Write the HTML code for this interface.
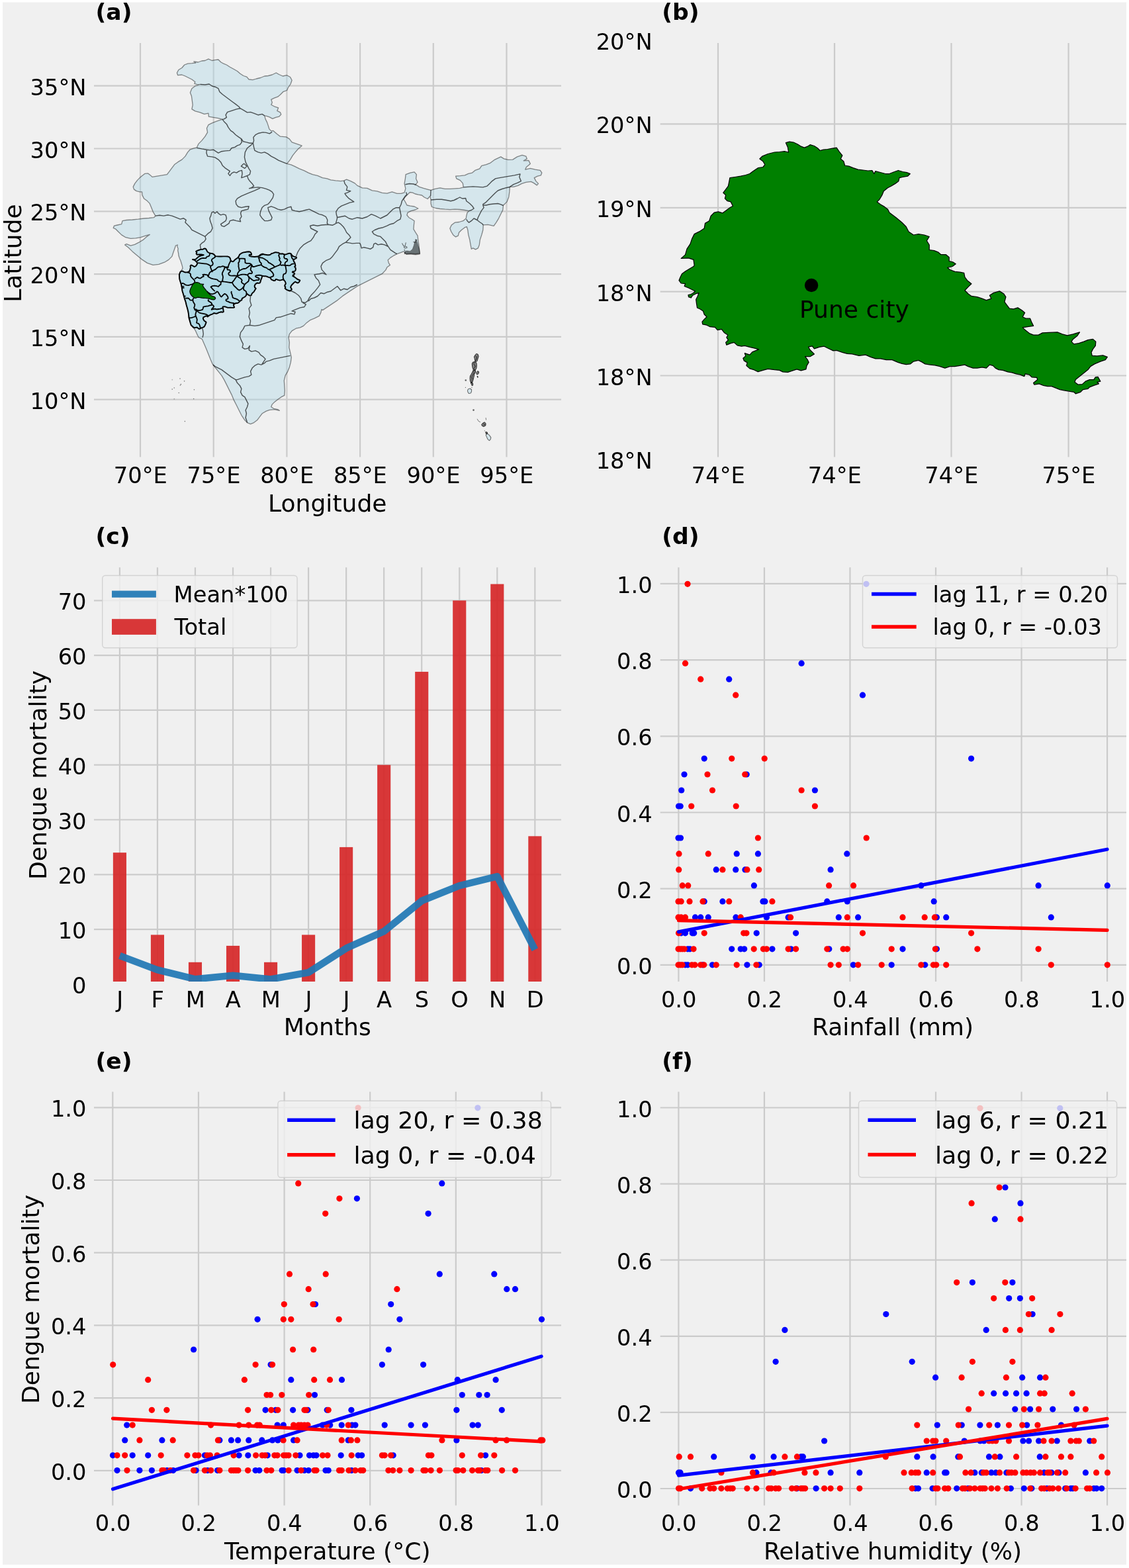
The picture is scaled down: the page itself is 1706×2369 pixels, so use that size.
<!DOCTYPE html>
<html lang="en"><head><meta charset="utf-8"><title>Dengue mortality and climate - Pune</title>
<style>
html,body{margin:0;padding:0;background:#fff;}
body{width:1706px;height:2369px;overflow:hidden;}
svg{display:block;font-family:"DejaVu Sans","Liberation Sans",sans-serif;fill:#000;}
</style></head><body>
<svg width="1706" height="2369" viewBox="0 0 1706 2369">
<rect x="0" y="0" width="1706" height="2369" fill="#ffffff"/>
<rect x="4" y="3.5" width="1698" height="2360.5" fill="#f0f0f0"/>
<defs>
<clipPath id="cpa"><rect x="142" y="65" width="706" height="625.5"/></clipPath>
<clipPath id="cpb"><rect x="997.7" y="65" width="704.3" height="625.5"/></clipPath>
<clipPath id="cpc"><rect x="142" y="857.3" width="706" height="625.7"/></clipPath>
<clipPath id="cpd"><rect x="997.7" y="857.3" width="704.3" height="625.7"/></clipPath>
<clipPath id="cpe"><rect x="142" y="1649.4" width="706" height="625.2"/></clipPath>
<clipPath id="cpf"><rect x="997.7" y="1649.4" width="704.3" height="625.2"/></clipPath>
</defs>
<path d="M212 65V690.5M322.7 65V690.5M433.4 65V690.5M544.1 65V690.5M654.8 65V690.5M765.5 65V690.5M142 129.7H848M142 224.5H848M142 319.3H848M142 414.1H848M142 508.9H848M142 603.7H848" fill="none" stroke="#cbcbcb" stroke-width="2.2"/>
<text x="212.3" y="729.6" font-size="33.7" text-anchor="middle">70°E</text>
<text x="323" y="729.6" font-size="33.7" text-anchor="middle">75°E</text>
<text x="433.7" y="729.6" font-size="33.7" text-anchor="middle">80°E</text>
<text x="544.4" y="729.6" font-size="33.7" text-anchor="middle">85°E</text>
<text x="655.1" y="729.6" font-size="33.7" text-anchor="middle">90°E</text>
<text x="765.8" y="729.6" font-size="33.7" text-anchor="middle">95°E</text>
<text x="130.5" y="143.7" font-size="33.7" text-anchor="end">35°N</text>
<text x="130.5" y="238.5" font-size="33.7" text-anchor="end">30°N</text>
<text x="130.5" y="333.3" font-size="33.7" text-anchor="end">25°N</text>
<text x="130.5" y="428.1" font-size="33.7" text-anchor="end">20°N</text>
<text x="130.5" y="522.9" font-size="33.7" text-anchor="end">15°N</text>
<text x="130.5" y="617.7" font-size="33.7" text-anchor="end">10°N</text>
<text x="494.8" y="772.8" font-size="36.1" text-anchor="middle">Longitude</text>
<text x="31.7" y="382.5" font-size="36.1" text-anchor="middle" transform="rotate(-90 31.7 382.5)">Latitude</text>
<text x="144.5" y="30" font-size="34.6" text-anchor="start" font-weight="bold">(a)</text>
<g clip-path="url(#cpa)" stroke-linejoin="round">
<path d="M267.4 110L269.9 105.5L274.9 102.5L278.7 98L283.7 96.2L289.9 95.7L295.7 95L292.9 93L299.4 94L304.9 92L309.9 91.5L314.9 89.2L320.4 91.5L324.9 90.7L329.9 90L333.6 93.7L337.9 96.2L342.4 98L347.4 101.2L352.9 104.2L358.6 107.5L362.9 111.2L367.9 114.5L372.9 116.2L376.1 120L381.9 120.7L387.4 119L393.6 117.5L399.8 115L405.3 114.5L411.1 113L417.3 110L421.6 112.5L427.3 115L433.6 113.7L438.6 116.5L441.1 121.2L439.1 127L435.3 132.5L433.6 136.5L427.8 138.7L423.6 143L419.8 146.2L414.3 148.2L409.8 150.4L411.3 154.9L409.8 158.2L415.3 161.2L420.6 162.9L418.8 167.4L423.6 169.9L424.8 172.9L421.6 176.2L416.6 177.4L411.8 179.4L407.3 176.9L402.8 175.4L399.8 174.9L401.1 179.9L403.6 184.9L405.3 189.9L406.8 194.9L409.8 197.9L412.8 197.4L418.6 202.4L423.6 206.2L432.3 206.9L437.3 209.9L441.1 214.9L449.8 217.9L456.1 220.2L451.1 224.4L447.3 228.7L442.3 234.9L438.6 241.1L433.6 247.4L439.8 248.9L444.8 251.1L452.3 254.9L459.8 257.9L466.1 261.1L472.3 263.6L479.8 265.4L487.3 268.6L494.3 269.9L499.8 271.9L507.3 272.9L514.8 273.6L519.8 272.9L523.7 271.1L529.9 273.6L536.2 276.9L539.9 280.4L547.4 283.9L554.9 284.4L562.4 287.9L569.9 288.9L577.4 291.4L584.9 292.1L592.4 289.9L599.9 292.4L606.1 292.4L611.1 290.9L612.9 284.9L611.1 277.4L612.4 269.9L613.1 263.6L619.9 261.1L626.1 259.9L629.4 263.6L628.6 269.9L631.1 275.4L627.9 278.6L633.6 282.4L639.9 284.4L646.1 286.1L651.1 287.4L657.4 285.4L664.9 283.9L672.4 285.4L679.9 285.4L687.3 284.9L694.8 284.4L700.3 282.9L699.3 276.9L695.3 272.4L689.8 269.9L688.6 266.1L695.3 265.6L702.3 264.9L707.8 262.4L713.6 261.1L717.8 257.4L724.8 254.9L727.8 250.4L734.8 248.6L741.1 246.1L747.8 241.1L756.8 236.9L761.5 239.9L767.8 241.4L774.8 241.1L781.5 236.9L789 234.4L794.8 236.1L796.3 239.9L791.3 242.9L798.8 242.4L801.3 247.4L795.3 252.4L793.8 256.1L801.3 254.4L808.8 256.1L816.3 257.4L818.8 261.1L817.3 264.9L812.3 266.1L807.3 268.6L809.8 273.6L813.5 277.4L811.3 279.9L806.3 276.4L802.3 274.4L794.8 275.4L788.5 277.4L782.8 280.4L776 282.4L770.3 282.4L769.8 289.9L768.8 297.4L766 304.9L760.5 310.3L759.8 317.3L757.3 322.3L753.6 329.8L749.8 336.1L746.1 341.3L737.3 339.3L730.3 339.8L729.8 347.5L727.8 354.9L725.3 362.4L724.3 369.9L722.3 374.9L718.6 376.9L714.8 374.9L712.3 376.2L711.1 369.9L709.8 362.4L707.8 354.9L706.8 347.5L705.3 342.5L702.3 343.7L697.3 347.5L693.6 351.2L692.3 356.2L688.6 357.9L684.8 354.9L681.8 350L679.9 345L682.3 340L687.3 336.2L693.6 335.5L699.8 333.7L704.3 330L704.8 326.2L706.1 321.2L708.6 318.7L702.3 317.5L694.8 316.5L687.3 316.2L679.9 316.7L672.4 316.2L664.9 315.5L658.6 314.5L652.4 312.5L651.1 307.5L651.1 302L649.9 296.2L646.1 300.5L641.1 298L637.4 295L632.4 294.2L627.4 293L623.6 291.2L619.4 290.5L616.1 293.7L612.4 297.5L609.9 301.2L612.4 305L614.9 310L619.9 311.2L626.1 312L631.9 315L627.4 317L621.1 318.7L616.1 321.2L614.9 325L617.9 328.7L622.4 331.2L626.1 333.7L625.4 340L624.9 346.2L627.9 351.2L631.1 356.2L631.9 363.7L632.9 369.9L633.6 377.4L634.4 382.9L627.4 383.7L619.9 382.9L613.6 383.7L609.9 379.9L604.9 381.9L599.9 383.7L594.9 386.2L589.9 389.4L586.2 392.9L587.4 397.4L589.4 400.4L584.9 403.7L582.9 407.9L577.4 413.7L569.9 417.4L562.4 421.2L554.9 424.9L547.4 428.7L539.9 432.4L532.4 437.4L524.9 442.4L517.5 447.4L510 453.6L502.5 458.6L495 463.6L487.5 468.6L486 467.4L484.8 472.4L482.3 477.4L474.8 481.2L468.6 483.7L463.6 487.4L458.6 492.4L453.6 494.9L447.3 496.2L441.1 499.9L437.3 504.9L436.1 509.9L437.3 517.4L436.8 524.9L438.6 532.4L440.3 539.9L439.3 547.4L437.3 554.9L434.8 561.1L431.1 567.4L429.3 574.9L429.8 582.4L430.3 589.9L429.8 597.4L424.8 599.9L419.8 603.6L414.8 607.4L411.1 611.1L409.8 614.8L413.6 617.3L419.8 618.6L422.3 620.3L414.8 618.6L407.3 619.3L402.3 621.1L396.1 624.8L392.3 629.8L388.6 634.8L383.6 638.6L378.6 640.6L373.6 638.6L369.9 634.8L364.9 627.3L361.1 619.8L357.4 612.3L353.6 604.9L349.9 596.1L346.1 588.6L342.4 581.1L338.6 573.6L334.9 567.4L329.9 561.1L324.9 554.9L321.1 549.9L317.9 542.4L314.9 534.9L311.9 527.4L308.7 519.9L305.4 512.4L300.44 510L299.15 507.73L297.86 505.16L296.58 502.16L294.86 498.73L293.15 496.15L290.58 494.01L288.86 491.44L288 488.87L287.15 485.87L286.29 482.87L285.43 479.87L285.22 476.86L284.79 473.44L284.15 470.01L283.29 466.58L282.43 463.58L281.58 460.58L280.93 457.58L280.07 454.57L279 451.57L278.15 448.57L277.29 445.57L276.43 442.57L275.57 440L274.72 434.3L273.86 430.01L272.57 425.73L271.29 421.44L270.86 415.01L272.57 410.72L273.86 408.58L276 405.58L275.57 402.58L274.29 398.29L273 394L271.29 390.15L270 386.29L269.57 382.43L268.72 378.57L269.14 375.57L267.86 372.57L268.29 370L265.4 371.2L263.7 376.2L261.9 381.2L259.9 387.4L254.9 392.4L248.7 396.2L239.9 399.4L231.2 400.4L222.5 397.4L215 392.4L207.5 386.2L200 379.9L193.7 373.7L188.7 369.9L191.2 368.7L197.5 371.2L203.7 369.4L210 366.2L216.2 362.4L221.2 357.9L226.2 354.4L220 356.2L212.5 358.7L205 359.9L197.5 360.4L190 358.7L183.7 354.9L178.7 350L175 346.2L171.2 344.5L172.5 341.2L177.5 340L183.7 338.7L185 333.7L191.2 332.5L200 332L208.7 331.2L217.5 330L225 329.5L232.4 328.7L234.9 326.2L231.2 319.8L228.7 313.6L226.2 307.4L222.5 303.6L217.5 299.9L215 294.9L214.5 289.9L211.2 289.9L206.2 288.6L202.5 286.1L201.2 282.4L203.7 277.4L207.5 272.4L211.2 268.6L215.5 264.9L218.7 262.4L223.7 261.9L227.5 264.9L230 267.4L237.4 266.1L244.9 264.9L252.4 263.6L256.2 258.6L259.9 253.6L263.7 248.6L268.7 244.9L274.9 241.1L279.9 236.1L283.7 229.9L286.9 226.2L292.4 224.2L297.4 222.9L299.9 217.4L304.9 212.4L309.9 206.2L313.6 199.9L312.4 193.7L314.9 188.7L319.9 186.2L326.1 183.7L331.1 181.9L336.1 180.4L329.9 178.7L322.4 177.4L315.4 176.2L314.9 171.2L308.7 172.4L302.4 169.9L294.9 167.9L289.9 164.9L291.2 158.7L290.4 152.4L289.4 145L287.4 140L289.9 133.7L294.9 130L302.9 127.5L298.7 128L293.7 126.2L294.9 123.7L289.9 120L284.9 117.5L279.9 115L274.9 113L268.7 113.7Z" fill="#add8e6" fill-opacity="0.4" stroke="#000" stroke-opacity="0.45" stroke-width="1.3"/>
<path d="M302.9 127.5L309.9 128L316.1 127L320.4 130L324.9 131.2L329.9 133.7L331.9 138.7L336.1 142.5L341.1 146.2L346.1 150L351.1 153.7L356.1 157.4L361.1 161.2L362.9 163.7L367.4 166.2L373.6 169.9L378.6 169.4L383.6 171.2L389.9 173.7L396.1 172.4L399.8 174.9M362.9 163.7L357.4 164.9L349.9 167.4L343.6 169.4L341.1 173.7L342.4 177.4L338.6 179.9L336.1 180.4L338.6 183.7L342.4 187.4L344.9 192.4L348.6 197.4L352.4 199.9L356.1 203.7L361.1 207.4L364.9 209.9L367.4 213.7L372.4 214.9L377.4 216.2L382.4 216.2M382.4 216.2L383.6 212.4L382.9 207.4L386.1 203.7L391.1 201.2L397.3 199.9L402.3 200.4L407.3 201.9L411.1 199.4M364.4 209.9L365.4 214.9L362.4 218.7L358.6 219.9L354.9 222.4L349.9 223.7L347.4 227.4L341.1 227.9L334.9 228.7L329.9 231.1L326.1 228.7L322.4 226.2L317.4 226.9L312.4 226.2L304.9 224.9L297.4 223.4M312.4 226.2L311.9 231.1L313.6 236.1L319.9 236.9L324.9 237.9L329.9 241.1L333.6 244.9L336.1 249.9L339.9 253.6L343.6 256.1L347.4 258.6L344.9 262.4L347.4 265.4L349.9 261.9L353.6 259.9L357.4 261.1L361.1 258.6L365.4 257.4L366.1 262.4L364.9 268.6L368.6 267.4L373.6 265.4M382.4 216.2L377.9 220.4L373.6 223.7L370.4 229.9L369.4 237.4L371.1 244.9L373.6 249.9L376.1 254.9L378.6 258.6L377.4 263.6L373.6 265.4M368.6 246.9L372.9 251.1L369.9 254.4L364.4 251.1L368.6 246.9M433.6 247.4L427.3 244.9L421.1 242.4L414.8 238.6L409.8 236.1L404.8 232.4L399.8 229.9L394.8 231.1L389.9 229.9L384.9 227.4L383.6 222.4L382.4 216.2M373.6 265.4L374.9 269.9L377.4 273.6L381.1 277.4L383.6 281.1L379.9 283.6L376.1 284.9M376.1 284.9L382.4 283.6L389.9 282.9L396.1 283.6L402.3 285.4L407.3 287.4L411.1 289.9L413.6 293.6L412.3 298.6L409.8 302.4L407.3 306.1L404.8 308.6L399.8 310.3L396.1 313.6L393.6 319.8L392.8 324.8L396.1 329.8L399.8 333.6L404.8 333.6L409.8 332.3L411.1 328.6L408.6 323.6L406.1 318.6L404.8 313.6L409.8 311.8L414.8 313.6L419.8 316.1L424.8 317.3L429.8 316.1L434.8 313.6L439.8 312.3L441.1 317.3L446.1 318.6L452.3 319.8L457.3 318.6L462.3 317.3L467.3 316.1L472.3 318.6L477.3 321.1L482.3 323.6L487.3 324.8L492.3 327.3L494.8 332.3L494.3 337.3L496 339.3L502.3 340.3L507.3 337.8M393.1 284.1L384.9 287.9L374.9 291.9L364.9 296.1L358.6 299.9L356.1 303.6L356.9 308.6L359.9 312.3L364.9 313.6L371.1 312.3L376.1 311.8L374.9 316.1L369.9 317.3L364.9 318.6L363.6 322.3L364.9 327.3L362.4 331.1L363.6 334.8L357.4 333.6L352.4 332.3L347.4 333.6L346.1 337.3L342.4 339.8L338.6 342.3L334.9 341.1L333.6 338.6L337.4 336.1L341.1 333.6L342.4 329.8L341.1 324.8L337.4 323.6L333.6 324.8L329.9 322.3L327.9 319.8L324.9 322.3L322.4 319.8L319.9 321.1L318.6 326.1L316.9 329.8L317.9 334.8L319.9 339.8L321.1 344.8L318.6 349.8L314.9 352.3L312.4 354.8L309.9 357.3M234.9 326.1L241.2 325.3L247.4 326.1L253.7 324.8L259.9 326.1L266.2 328.6L272.4 331.1L277.4 329.8L281.2 332.3L279.9 336.1L283.7 339.8L287.4 343.6L289.9 347.3L294.9 349.8L299.9 352.3L304.9 354.8L309.9 357.3M519.8 272.9L521 277.4L524.8 282.4L523.5 287.4L529.8 288.6L524.8 291.1L521 292.4L523.5 296.1L527.3 299.9L534.8 304.9L528.5 306.1L522.3 308.6L516 311.1L511 314.8L507.8 319.8L508.5 324.8L509.8 328.6L508.5 333.6L507.3 337.8M309.9 357.4L311.1 361.2L308.7 364.9L304.9 367.4L302.4 369.9L302.9 373.7L303.9 376.4M447.3 387.4L449.8 381.2L453.6 374.9L458.6 369.9L464.8 366.2L469.8 363.7L473.5 358.7L476 353.7L479.8 350L474.8 347.5L469.8 345L468.6 341.2L473.5 340L479.8 341.2L486 340L492.3 339.5L496 339.2M508.7 328.7L515 327.5L521.2 326.2L527.4 330L532.4 331.2L539.9 328.7L547.4 330L554.9 327.5L561.2 323.7L567.4 326.2L574.9 330L579.9 327.5L584.9 325L589.9 320L593.7 316.2L598.7 313.7L603.6 313.7M603.6 313.7L606.1 308.7L607.4 303.7L609.9 300L612.4 296.2L614.9 293.7L613.6 290.5M603.6 313.7L604.9 320L606.1 326.2L604.9 331.2L599.9 333.7L594.9 337.5L589.9 338.7L584.9 341.2L578.7 343.7L572.4 345L566.2 347.5L562.4 350L564.9 353.7L569.9 356.2L574.9 357.4L578.7 361.2L582.4 364.9L584.9 369.9L587.4 373.7L589.9 377.4L593.7 379.9L597.4 382.4L599.9 383.7M586.2 372.4L581.2 369.9L576.2 368.7L571.2 369.9L567.4 367.4L564.9 368.7L563.7 373.7L559.9 376.2L554.9 374.9L549.9 373.7L546.2 374.9L544.9 369.9L543.7 367.4L538.7 367.4L532.4 367.9L527.4 366.9L522.4 366.2M522.4 366.2L526.2 362.4L529.9 358.7L527.4 354.9L523.7 351.2L521.2 346.2L518.7 342.5L515 338.7L511.2 336.2L507.5 337.5M522.4 366.2L517.5 368.7L512.5 372.4L510 377.4L506.2 382.4L502.5 387.4L498.7 391.2L492.5 393.7L487.5 397.4L485 402.4L486.2 407.4L493 414.9L487.5 412.4L482.5 413.7L475 414.9L477.5 419.9L481.2 423.7L483.7 429.9L480 434.9L475 441.1L471.2 444.9L467.5 449.9L465 454.9M612.4 278.7L618.6 277.5L624.9 278L628.6 279.5M651.1 287L650.6 296.2M651.1 302L659.9 301.2L667.4 301.2L674.9 302.5L681.1 303.7L686.1 302.5L691.1 300L694.8 298L698.6 300L703.6 299.5L704.8 303.7L709.8 307.5L713.6 311.2L716.1 315L712.3 317.5L708.6 318.7M700.3 282.9L707.3 282.4L714.8 281.9L722.3 282.4L729.8 282.9L736.1 281.1L739.8 277.4L743.6 273.6L748.6 269.9L754.8 268.6L762.3 267.4L769.8 266.1L777.3 264.9L786 262.9L784.8 267.4L787.3 273.6L782.3 276.1L776 278.6L770.3 282.4M770.3 282.5L764.8 283.7L758.6 285.5L752.3 288L748.6 291.2L744.8 295L741.1 298.7L737.3 302.5L733.6 306.2L729.8 308.7L729.8 310L734.8 310L739.8 308.7L746.1 308L752.3 307.5L756.1 308.7L760.5 310.5M729.8 310L731.1 313.7L727.3 318.7L724.8 323.7L722.3 328.7L721.1 332.5L724.8 335.5L728.6 338L730.3 340M721.1 332.5L716.1 330L712.3 333.7L708.6 336.2L706.1 333.7L704.8 331.2M437.3 439.5L441.1 440L446.1 442.5L451.1 446.2L454.8 451.2L456.1 456.2L461.1 457.4L464.8 454.9L467.3 450L471 445M539.8 430L534.8 432.5L529.8 433.7L524.8 437.5L519.8 436.2L514.8 438.7L509.8 432.5L504.8 436.2L499.8 440L494.8 441.2L489.8 443.7L484.8 442.5L479.8 447.5L474.8 450L469.8 451.2L466.1 454.9M378.6 447.5L377.9 454.9L379.9 461.2L376.1 466.2L377.4 472.4L376.1 478.7L378.6 484.9L377.4 491.2L384.9 492.4L392.3 491.2L399.8 488.7L407.3 486.2L414.8 483.7L417.3 479.9L424.8 478.7L432.3 476.2L439.8 473.7L444.8 474.9L446.1 471.2L441.1 469.9L447.3 467.4L453.6 464.9L459.8 463.7L462.3 459.9L457.3 457.4M377.4 491.2L369.9 492.4L367.4 497.4L363.6 502.4L362.4 508.7L364.9 514.9L367.4 519.9L366.1 524.9L369.9 527.4L374.9 526.2L377.4 522.4L376.1 528.7L379.9 531.1L386.1 529.9L391.1 532.4L393.6 536.1L397.3 538.6L401.1 542.4L398.6 546.1L396.1 549.9L399.8 548.6L402.3 546.1L407.3 544.9L413.6 542.4L419.8 541.1L426.1 539.9L432.3 538.6L438.6 537.4M399.8 548.6L394.8 551.1L389.9 549.9L384.9 552.4L381.1 556.1L378.6 561.1L379.9 566.1L376.1 568.6L369.9 569.9L363.6 571.9L358.6 573.6L356.1 573.6L349.9 569.9L344.9 566.1L339.9 562.4L334.9 558.6L329.9 556.1L324.9 553.6L321.9 551.1M356.1 573.6L358.6 578.6L362.4 582.4L364.9 587.4L363.6 592.4L366.1 597.4L369.9 599.9L372.4 604.9L374.9 609.9L373.6 614.8L371.1 619.8L372.4 624.8L371.1 631.1L372.9 636.1L373.6 638.6M305.15 495.73L306.44 498.3L306.87 501.3L307.29 504.3L306.87 506.87L306.01 510" fill="none" stroke="#000" stroke-opacity="0.66" stroke-width="1.4"/>
<path d="M272.57 410.72L275.15 409.44L277.72 410.72L280.29 411.58L283.29 411.37L286.29 409.87L287.15 407.29L288 404.29L287.58 401.72L288.86 400.43L291.43 401.72L294.01 403.01L296.15 401.72L297.86 399.15L298.29 397.43L296.58 395.29L294.86 393.58L293.58 392.72L291.01 392.08L294.01 392.29L296.15 391.43L297.86 389.72L300.44 387.58L303.44 386.29L306.87 385.65L307.72 385.22L304.29 384.57L300.86 384.36L297.86 384.79L296.58 383.29L297.44 381.57L296.15 379.86L298.29 378.57L300.86 377.72L303.44 376.86L306.01 376.86L307.72 376L309.44 375.36L311.15 376.22L312.01 377.72L312.87 379.43L313.72 380.72L315.44 381.79L317.15 382.43L319.3 382.86L321.44 383.29L323.58 384.57L324.87 386.29L325.73 387.15L328.3 387.36L330.87 387.58L334 387.58L337.43 387.36L340.86 387.36L344.29 387.58L346.43 388.43L347.72 390.15L348.36 392.29L349 394L350.29 394.86L352 395.29L353.29 394.43L354.58 392.72L356.29 391.43L358.43 390.15L359.72 388.86L361.01 387.15L361.86 385L363.15 383.72L365.29 382.43L367.86 381.36L370.44 380.93L373.01 380.5L375.58 380.29L377.72 380.5L379.01 381.57L379.87 383.29L380.08 384.79L378.58 385L376.87 384.79L376.44 385.86L377.29 386.93L379.44 387.58L382.01 387.79L384.58 388L387.15 387.79L389.73 387.58L391.44 386.72L392.73 385.43L394.44 384.36L396.16 383.72L397.87 383.72L399.16 384.57L400.87 384.79L402.59 385L404 385.22L406.57 385.22L408.72 384.57L410 383.29L412.14 382.65L414.29 381.79L416.43 381.15L418.57 381.57L420.72 381.79L422.43 382.86L424.15 383.72L426.29 383.29L428 383.72L430.15 384.57L432.29 384.36L434.86 383.29L437.44 382.65L439.58 383.29L440.86 385L442.15 386.72L444.29 387.58L446.87 388.43L448.15 388.86L447.72 390.15L446.01 391L444.29 391.86L443.44 393.15L443.87 394.86L445.15 396.58L446.01 399.15L446.44 401.72L445.15 403.01L446.44 404.29L446.87 406.44L446.44 408.58L445.15 409.87L442.58 410.29L441.72 411.15L443.44 412.01L445.15 412.87L444.72 414.58L443.01 415.44L442.58 417.15L444.29 418.01L446.01 419.3L447.72 420.58L449.44 421.87L451.58 422.73L453.3 423.58L452.44 425.3L451.15 427.01L449.44 427.44L447.72 426.58L446.01 425.73L444.29 427.01L442.58 428.73L440.86 430.44L439.58 432.58L439.15 434.3L440.44 436.01L440.86 437.3L439.58 438.59L437.86 439.44L436.15 439.01L434.01 438.16L431.86 436.87L430.58 435.58L431.43 433.87L430.15 432.16L430.58 430.44L431.86 428.73L431.43 426.58L430.58 424.87L428.86 423.15L427.15 422.3L425 423.15L422.86 423.58L420.72 423.15L418.57 422.3L416.86 421.87L415.57 424.01L413.86 424.01L411.72 423.15L410 422.3L408.72 420.15L407.43 419.3L405.71 418.87L404 418.01L400.87 417.15L398.3 417.15L396.16 416.72L395.73 419.3L394.87 421.44L394.01 423.58L393.58 425.73L392.73 427.44L391.01 427.87L388.87 427.44L387.15 428.3L385.44 430.01L384.58 432.16L385.01 434.3L386.73 436.01L385.44 437.73L384.15 440L383.3 441.29L381.58 442.57L380.3 444.29L379.87 446L378.58 446.64L376.87 446.43L374.72 445.14L373.44 443.86L372.58 444.29L372.15 446L370.86 447.72L369.15 449L367.44 449.86L365.72 451.15L365.29 453.29L363.58 454.15L361.86 455.86L360.58 457.15L358.86 458L356.72 458L354.58 458.86L352.86 460.15L353.29 462.29L354.15 464.43L352.86 464.86L350.29 464.86L347.72 464.65L345.15 464.86L343 464.43L340.86 463.58L338.72 463.15L336.57 463.58L337 465.72L337.43 468.29L337.86 470.86L336.57 471.72L334 471.29L332.59 471.72L330.87 472.15L329.16 473.01L327.01 473.86L325.3 473.44L323.15 473.01L321.44 474.29L319.3 475.15L317.15 476.01L315.44 477.29L313.72 478.58L312.44 477.29L310.72 477.72L309.01 478.58L307.29 479.44L306.87 481.15L307.72 483.29L309.01 485.01L310.72 485.87L311.58 487.15L310.72 489.3L309.87 491.44L308.58 493.58L306.44 494.87L304.29 495.3L302.58 496.58L300.86 497.01L299.15 495.73L297.44 494.44L295.72 494.87L294.01 495.3L292.29 494.44L290.58 492.73L288.86 491.44L288 488.87L287.15 485.87L286.29 482.87L285.43 479.87L285.22 476.86L284.79 473.44L284.15 470.01L283.29 466.58L282.43 463.58L281.58 460.58L280.93 457.58L280.07 454.57L279 451.57L278.15 448.57L277.29 445.57L276.43 442.57L275.57 440L274.72 434.3L273.86 430.01L272.57 425.73L271.29 421.44L270.86 415.01Z" fill="#add8e6" fill-opacity="0.9" stroke="#000" stroke-width="1.95"/>
<path d="M296.58 395.29L299.15 393.58L301.72 391.65L304.29 390.36L306.87 389.8L309.44 390.15L311.15 390.15L311.8 388.65L313.3 387.58L315.44 387.15L316.51 385.65L316.94 383.72L317.15 382.43M298.29 397.43L300.86 397.43L304.72 397.86L309.01 398.29L312.44 398.72L314.58 399.58L316.73 400.86L318.44 401.94L319.73 401.29L321.44 400.01L321.87 397.86L321.01 395.72L319.73 394L320.15 391.86L321.87 390.58L324.01 389.29L325.3 388L324.87 386.29M318.44 401.94L318.01 403.86L318.87 406.01L319.73 408.15L320.58 409.87L318.44 410.29L316.73 412.01L315.87 414.15L315.01 416.3L314.58 418.01M320.58 409.44L323.15 408.15L325.73 406.86L327.44 405.15L329.58 403.44L331.73 403.01L334 403.44M314.58 418.01L316.73 419.3L319.3 420.58L322.3 421.44L325.3 421.87L328.3 422.73L330.01 424.44L331.73 425.3L334 425.73M314.58 418.01L313.3 415.44L311.15 415.01L309.01 414.58L306.44 414.79L307.29 416.3L307.72 417.58L305.58 418.44L303.87 419.72L302.58 420.58L300.44 420.15L298.29 418.87L297.01 419.3L295.72 420.58L294.01 421.44M283.29 411.37L286.29 412.44L288 414.15L288 416.72L289.29 418.87L291.01 420.58L292.72 422.3L294.01 424.01L294.43 426.15M273.86 428.73L276 427.87L278.15 428.73L280.29 430.44L282.43 430.87L284.58 431.08L287.15 430.44L289.72 429.58L291.86 428.73L293.58 427.44L294.43 426.15M334 425.73L333.44 430.01L331.73 430.87L330.01 433.01L327.44 432.16L324.01 431.73L321.01 432.16L318.44 433.44L320.58 436.01L323.15 438.59L324.87 440M348.57 394L347.29 396.58L346 399.15L345.15 401.72L344.29 403.86L340.86 403.86L338.29 402.58L336.57 402.15L334 403.01M339.57 404.29L338.72 406.86L337.43 409.44L336.14 412.01L335.71 414.15L336.57 416.3L337 418.87L336.57 421.44L336.14 424.01L337 425.3M343 405.15L343.86 407.72L346.43 407.72L348.15 409.01L347.72 410.72L346 412.01L345.15 413.72L346 415.44L348.15 416.3L351.15 416.72L353.72 416.51L356.29 416.72L358.65 416.72M359.72 388.86L361.43 390.58L361.86 393.15L361.43 395.72L360.15 397.01L360.58 400.01L360.36 402.58L361.01 405.15L361.43 407.72L361.86 409.01M361.43 391L364.01 390.58L367.01 390.58L370.01 391L370.44 394L370.44 397.01L372.58 397.86L375.15 397.86L377.72 398.08L379.44 399.15L380.51 400.01M361.86 409.01L364.01 407.72L366.58 406.44L369.15 406.01L371.72 405.58L373.44 404.29L375.15 403.01L377.29 401.29L379.01 400.01L380.51 400.01M361.86 409.01L360.58 410.72L359.29 412.44L358.86 414.58L358.65 416.72M380.51 400.01L381.15 401.72L382.01 403.01L384.15 403.01L386.73 402.15L389.3 401.29L391.44 400.86L393.58 400.43L394.87 400.43M380.51 400.01L379.87 402.58L379.01 405.15L378.58 407.72L379.87 409.44L381.15 411.15L380.72 412.87L379.44 413.29L377.72 412.87L376.01 413.29L374.72 414.58L373.87 415.44M358.65 416.72L361.43 415.87L364.01 415.01L366.58 414.58L369.15 414.58L371.72 415.01L373.87 415.44M373.87 415.44L375.15 417.15L376.87 419.3L379.01 421.01L381.15 422.73L383.3 424.01L385.44 423.58L388.01 423.15L390.58 423.15L391.87 421.44L391.01 420.15L388.87 419.3L386.73 418.44L385.87 417.58L386.73 416.3L388.87 415.87L391.44 415.65L394.01 415.87L396.16 416.72M358.65 416.72L359.72 418.44L361.86 419.72L364.43 421.44L365.72 423.58L364.86 425.73L365.72 427.44L367.86 428.73L369.58 430.01M373.87 415.44L375.58 418.01L376.44 420.58L376.01 423.15L375.15 425.3L373.44 426.58L371.29 428.3L369.58 430.01M358.65 416.72L357.15 418.44L355.43 420.58L354.15 422.73L352.43 424.87L350.72 427.01M334 425.3L337 425.3L339.57 425.73L342.57 426.15L345.57 426.58L348.15 427.01L350.72 427.01M350.72 427.01L352 429.15L353.29 431.3L355 433.01L356.72 434.73L358.43 436.44L360.15 437.73L361.43 438.59L364.01 437.3L366.15 435.58L367.86 433.44L369.15 431.3L369.58 430.01M369.58 430.01L368.72 432.58L367.86 435.16L368.29 437.73L370.01 439.01L371.72 440M390.15 388.43L391.44 390.58L391.87 393.15L392.73 395.72L394.87 397.86L394.87 400.43M391.44 388.86L394.01 389.29L396.58 389.72L399.16 391L401.73 392.72L404 394M394.87 400.43L397.44 402.58L400.01 403.86L402.59 404.72L404 405.58M391.44 387.15L394.44 385.22L397.44 384.36M422.43 382.86L421.15 385.86L422 388.43L422.86 390.58L422 392.72L423.29 394.43L424.58 396.15L423.72 398.29L423.29 400.01M430.15 384.57L429.29 387.15L429.29 389.29L430.58 390.58L433.15 391L434.43 392.29L434.01 394.43L431.86 395.72L430.58 397.43L430.58 399.58L431.22 401.29M423.29 400.01L425.43 400.86L427.58 400.43L429.72 400.86L431.22 401.29L434.01 400.86L436.58 401.29L438.72 400.86L440.44 399.15L442.58 398.72L444.72 398.29M423.29 400.01L421.15 400.86L419 401.72L416.86 402.58L415.15 403.44M404 394L405.71 396.58L408.29 397.86L410.86 399.58L413.43 401.29L415.15 403.44M415.15 403.44L411.72 405.15L407.86 406.86L407.43 407.72L405.29 406.86L404 406.01M407.43 407.72L410 409.87L412.14 412.44L413.43 415.01L413 417.15L410 418.44L407.86 419.3M431.22 401.29L431.86 404.29L432.29 406.86L432.72 409.44L432.29 411.58L431.43 413.29L429.72 413.72L428.43 414.58L428 416.3L427.58 418.44L428 420.58L428.86 423.15M439.58 383.72L440.44 387.15L441.29 390.15L442.58 391.43L443.44 393.15M280.07 450.72L282 450.72L284.15 450.29L285.86 451.57L287.15 453.29L289.29 453.72L291.01 453.29L291.86 451.57L292.72 450.29M291.43 453.29L291.86 455.86L293.15 458L294.43 460.15L294.01 462.72L293.15 464.86L294.01 467.01L295.72 467.86M295.72 467.86L298.29 468.72L300.86 469.15L303.44 468.72L306.01 467.86L306.87 465.72L307.29 463.58L309.44 463.15L312.01 462.72L314.58 462.29L317.15 461.43L319.3 461L320.15 460.15M315.01 452.43L314.58 454.57L316.73 455.86L318.87 457.15L320.15 458.86L320.15 460.15L322.3 461.43L323.15 463.15L321.87 464.86L320.15 466.58L319.73 467.86L322.3 467.01L324.87 466.58L327.44 467.43L330.01 467.01L332.59 466.58L334 466.15M295.72 467.86L296.58 470.86L295.72 473.44L295.29 475.58L296.15 478.15M285.22 479.87L287.58 480.29L290.15 479.87L292.72 479.01L294.86 478.15L296.15 478.15M296.15 478.15L297.01 480.29L297.86 482.87L297.44 485.44L297.01 487.58L298.29 488.44L300.01 488.87L301.29 490.58L302.15 492.73L302.58 494.87L302.58 496.58M295.72 467.86L299.15 470.86L301.29 472.58L304.29 473.44L306.87 473.86L309.44 474.29L312.01 475.15L314.15 476.44L315.44 477.29M312.44 440L314.58 442.14L317.58 443.86L321.01 444.29L324.01 443.43L326.16 442.14L327.44 440.86L328.3 440M328.3 440L330.01 442.14L332.59 446.43L334 448.57M349.86 440L349.43 442.14L350.29 444.29L351.15 446.86L351.58 449.43L353.72 450.72L356.29 451.36L358.86 452.43L360.58 453.72L361.86 455M334 449L336.14 446.86L338.29 444.72L339.57 443.86L341.29 444.72L343 446.43L344.29 448.57L344.72 450.72L343.43 452L341.72 452.43L341.29 453.72L342.57 455L345.15 455.86L347.72 457.15L350.29 457.58L352.86 458L354.58 458.86M334 466.15L335.71 465.72L337 465.72M371.72 440L372.36 442.14L372.58 444.29" fill="none" stroke="#000" stroke-width="1.8"/>
<path d="M300.44 384.57L307.72 384.79L307.94 386.07L300.86 385.95ZM319.51 408.79L321.65 408.79L321.65 411.37L319.51 411.37ZM274.29 431.73L278.15 431.73L278.57 436.01L274.72 436.01ZM340.43 402.58L345.57 402.58L345.57 405.36L340.43 405.36ZM278.15 446.43L280.72 446.43L280.72 448.57L278.15 448.57ZM293.58 466.58L297.44 466.58L297.44 469.15L293.58 469.15ZM441.72 415.44L444.72 415.44L444.72 418.01L441.72 418.01ZM440.01 384.57L442.58 387.15L440.01 388Z" fill="#000" fill-opacity="0.8" stroke="none"/>
<path d="M290.58 430.87L292.29 428.73L294.43 427.01L296.58 426.58L299.15 426.8L300.86 427.44L302.58 428.73L305.15 429.15L307.72 429.37L306.44 430.87L306.87 432.58L308.58 435.16L310.72 437.73L312.44 440L314.15 442.14L315.87 443.86L317.58 445.57L319.73 446.86L322.3 447.72L324.44 448.57L325.73 450.29L324.87 452L323.15 452.86L320.58 452.65L318.01 452L315.44 451.15L312.87 450.72L310.3 450.5L307.72 450.29L305.15 450.07L302.58 449.64L300.01 449.22L297.86 449.43L296.15 450.29L294.01 450.29L292.29 449L290.15 447.29L288.43 445.14L287.15 442.57L286.72 440L287.15 438.59L288 436.01L289.29 433.44Z" fill="#008000" stroke="#000" stroke-width="1.2"/>
<path d="M707.64 587.72L710.46 587.02L712.57 588.78L712.43 591.96L711.16 594.07L708.34 594.43L706.79 591.96L706.58 589.49ZM735.15 655.45L737.62 655.8L739.74 657.92L741.85 661.09L741.15 663.92L739.38 665.68L737.27 663.92L735.5 660.39L734.3 657.57Z" fill="#add8e6" fill-opacity="0.4" stroke="#000" stroke-opacity="0.55" stroke-width="1.1"/>
<path d="M719.63 534.46L722.1 535.17L723.16 538.34L722.1 541.87L721.04 545.4L719.63 546.81L717.87 545.4L717.16 541.87L716.46 539.05L717.87 536.58ZM714.34 547.16L717.51 546.46L719.98 548.22L720.34 551.75L719.98 555.98L718.92 558.45L716.46 559.15L714.34 556.68L713.63 553.16L713.28 549.63ZM715.04 559.86L718.22 559.15L718.92 562.33L716.81 565.15L716.1 569.38L715.04 573.62L713.99 577.14L711.87 578.55L710.46 575.73L710.11 571.5L710.46 567.97L712.22 565.15L713.63 562.33ZM721.75 560.56L723.51 561.62L723.16 564.44L721.39 565.86L719.98 565.15L720.34 562.68ZM721.04 567.97L722.45 569.38L721.75 570.44ZM711.16 577.85L714.34 578.55L714.69 582.08L713.28 582.79ZM729.51 639.22L732.33 637.81L734.09 639.93L733.74 643.1L730.92 644.51L728.45 643.46L727.74 641.34ZM733.74 652.63L736.21 652.98L736.56 655.1L734.44 655.45Z" fill="#000" fill-opacity="0.45" stroke="#000" stroke-opacity="0.8" stroke-width="1.0"/>
<path d="M718.22 536.93L720.34 541.16L718.92 544.69L716.81 549.63L717.51 553.86L716.1 558.1L717.51 562.33L713.99 567.97L712.57 573.62L712.57 577.85M721.04 537.64L719.63 543.28L714.69 549.63L718.92 553.16L714.69 558.1L715.4 563.74L711.87 569.38L714.69 573.62M721.04 632.87L723.16 636.4L725.98 637.81M734.09 631.11L734.59 634.64M729.51 639.93L733.03 641.34L730.21 643.1" fill="none" stroke="#000" stroke-opacity="0.55" stroke-width="0.9"/>
<g fill="#000" fill-opacity="0.6"><circle cx="703.76" cy="574.46" r="1.3"/><circle cx="715.54" cy="619.61" r="1.3"/><circle cx="703.4" cy="585.47" r="0.6"/><circle cx="712.93" cy="585.47" r="0.6"/><circle cx="732.33" cy="650.86" r="0.6"/></g>
<path d="M628.87 361.55L630.7 366.48L632.11 371.41L633.8 376.34L634.65 384.08L628.17 385.07L621.13 384.23L614.08 384.51L611.27 382.25L614.08 378.87L619.72 379.44L623.24 376.62L625.35 370.7L626.76 365.07Z" fill="#000" fill-opacity="0.5" stroke="#000" stroke-opacity="0.35" stroke-width="0.8"/>
<path d="M607.49 367.56L609.7 371.23L611.17 372.33L610.43 373.8L611.9 374.91L614.84 374.54L614.84 373.07L611.9 371.97L612.64 369.39L613.37 366.45M624.39 365.35L626.6 366.45L628.8 365.35M627.33 361.68L629.17 363.15L630.27 362.05M610.8 376.74L612.27 379.68L611.17 384.09" fill="none" stroke="#000" stroke-opacity="0.55" stroke-width="1.1"/>
<g fill="#000" fill-opacity="0.5"><circle cx="272.02" cy="572.1" r="0.8"/><circle cx="278.57" cy="575.87" r="0.8"/><circle cx="272.42" cy="582.02" r="0.8"/><circle cx="273.41" cy="580.63" r="0.8"/><circle cx="263.29" cy="585.99" r="0.8"/><circle cx="260.24" cy="588.1" r="0.8"/><circle cx="270.24" cy="593.53" r="0.8"/><circle cx="293.45" cy="588.77" r="0.8"/><circle cx="292.66" cy="602.46" r="0.8"/><circle cx="279.37" cy="636.59" r="0.8"/></g>
<g fill="#000" fill-opacity="0.25"><circle cx="263.29" cy="602.66" r="0.9"/><circle cx="260.32" cy="573.69" r="0.9"/></g>
</g>
<path d="M1085 65V690.5M1261 65V690.5M1437.5 65V690.5M1614.6 65V690.5M997.7 187.3H1702M997.7 313.9H1702M997.7 440.6H1702M997.7 567.5H1702" fill="none" stroke="#cbcbcb" stroke-width="2.2"/>
<text x="1085.3" y="729.6" font-size="33.7" text-anchor="middle">74°E</text>
<text x="1261.3" y="729.6" font-size="33.7" text-anchor="middle">74°E</text>
<text x="1437.8" y="729.6" font-size="33.7" text-anchor="middle">74°E</text>
<text x="1614.9" y="729.6" font-size="33.7" text-anchor="middle">75°E</text>
<text x="985.6" y="74.6" font-size="33.7" text-anchor="end">20°N</text>
<text x="985.6" y="201.3" font-size="33.7" text-anchor="end">20°N</text>
<text x="985.6" y="327.9" font-size="33.7" text-anchor="end">19°N</text>
<text x="985.6" y="454.6" font-size="33.7" text-anchor="end">18°N</text>
<text x="985.6" y="581.5" font-size="33.7" text-anchor="end">18°N</text>
<text x="985.6" y="708.4" font-size="33.7" text-anchor="end">18°N</text>
<text x="1000.2" y="30" font-size="34.6" text-anchor="start" font-weight="bold">(b)</text>
<path clip-path="url(#cpb)" d="M1049.2 401.1L1048 392.4L1040.5 389.9L1029.2 390.4L1035.5 384.9L1038 376.1L1043 368.6L1045.5 361.1L1049.2 353.6L1056.7 349.9L1064.2 344.9L1065.5 337.4L1071.7 333.7L1074.2 326.2L1079.2 321.2L1085.4 319.9L1091.7 321.9L1097.9 317.4L1102.9 313.7L1107.4 311.2L1104.2 304.9L1099.2 303.7L1095.4 299.9L1096.7 294.9L1092.9 291.2L1096.7 286.2L1100.4 281.2L1101.7 274.9L1102.9 268.7L1110.4 267.5L1119.2 266.2L1126.7 264.5L1132.9 262.5L1137.9 258.7L1145.4 253.7L1152.9 252.5L1155.9 248.7L1152.9 243.7L1147.9 240L1151.7 236.2L1160.4 232.5L1170.4 230L1177.9 229.5L1185.4 228.7L1191.6 230L1190.4 222.5L1187.4 215.7L1192.9 214.2L1199.1 215L1205.4 218L1210.4 221.2L1215.4 223.2L1220.4 221.2L1224.1 218.7L1230.4 220.5L1235.4 223.7L1239.1 227.5L1244.1 226.2L1250.3 225.5L1257.8 224.2L1264.1 223.2L1267.8 228.7L1272.8 235L1270.3 240L1274.8 243.7L1276.6 250L1282.8 251.2L1289.1 253.7L1296.6 256.2L1304.1 257L1311.6 258L1317.8 257.5L1320.8 262.5L1322.8 258.7L1330.3 260.5L1337.8 262.5L1344 262.5L1350.3 260L1357.3 257.5L1364 259.5L1370.3 260.7L1375.3 262.5L1371.5 266.2L1364 267.5L1359 268.7L1357.8 273.7L1352.8 277.4L1346.5 281.2L1341.5 283.7L1335.3 288.7L1332.8 294.9L1329 301.2L1325.3 304.9L1330.3 308.7L1336.5 312.4L1341.5 316.2L1344 321.2L1349 324.9L1354 328.7L1363 336.2L1369.2 342.5L1373 350L1380.4 355L1387.9 353.7L1396.7 355L1404.2 357.5L1400.4 363.7L1404.2 370L1404.2 377.5L1411.7 378.7L1417.9 381.2L1421.7 384.5L1429.2 384.5L1434.2 388.7L1434.2 394.5L1440.4 396.2L1444.2 398.7L1439.2 402.5L1431.7 404.5L1435.4 407.5L1442.9 410.4L1450.4 411.2L1456.7 412.4L1457.9 418.7L1461.6 423.7L1467.9 428.7L1464.1 432.4L1457.9 438.7L1462.9 443.7L1467.9 447.4L1476.6 448.7L1484.1 451.2L1490.4 453.7L1497.9 451.2L1495.4 446.2L1501.6 442.4L1510.4 439.9L1516.6 443.7L1519.9 448.7L1517.9 456.2L1521.6 461.2L1525.4 466.2L1531.6 466.9L1537.9 464.9L1544.1 468.7L1548.6 472.4L1545.3 478.7L1550.3 481.2L1556.6 481.2L1559.1 487.4L1561.6 492.4L1552.8 493.6L1545.3 494.9L1549.1 498.6L1555.3 503.6L1561.6 506.1L1569.1 506.1L1575.3 502.9L1585.3 502.4L1597.8 501.9L1605.3 504.9L1612.8 506.9L1621.5 504.9L1631.5 501.9L1627.8 507.4L1621.5 512.4L1619 516.1L1622.8 519.9L1630.3 518.6L1637.8 516.1L1644 513.6L1651.5 512.4L1655.8 516.1L1655.3 522.4L1651.5 527.4L1649 532.4L1650.3 537.4L1657.8 537.9L1666.5 536.9L1673.3 539.4L1670.3 543.6L1662.8 546.1L1654 549.9L1647.8 553.6L1644 558.6L1637.8 563.6L1631.5 568.6L1625.3 573.6L1624 577.3L1629 581.1L1635.3 580.6L1640.3 576.1L1646.5 573.6L1652.8 573.6L1655.3 569.9L1659 569.4L1662.8 576.1L1657.8 577.3L1660.3 579.8L1652.8 582.3L1646.5 584.8L1644 587.3L1636.5 588.6L1632.8 592.3L1625.3 594.8L1622.8 592.3L1615.3 591.1L1607.8 589.8L1601.6 588.6L1595.3 586.1L1589.1 583.6L1582.8 583.6L1576.6 582.3L1570.3 579.8L1562.8 581.1L1561.6 578.6L1567.8 573.6L1566.6 570.3L1559.1 569.9L1555.3 566.1L1549.1 564.9L1547.8 568.6L1541.6 566.1L1535.4 564.9L1529.1 562.9L1522.9 561.9L1515.4 559.4L1509.1 558.6L1504.1 556.1L1500.4 552.4L1495.4 551.1L1490.4 556.1L1484.1 554.9L1476.6 556.1L1470.4 556.1L1462.9 553.6L1457.9 551.1L1450.4 552.4L1442.9 553.6L1435.4 553.6L1427.9 556.1L1420.4 553.6L1412.9 551.9L1405.4 551.1L1397.9 549.9L1392.9 546.9L1387.9 544.4L1380.4 546.1L1375.5 549.9L1369.2 550.6L1363 549.4L1356.7 547.4L1348 543.6L1339.2 543.6L1330.5 541.9L1323 541.9L1315.5 539.4L1308 536.1L1298 537.4L1287.8 534.9L1280.3 534.4L1272.8 532.4L1264.1 529.4L1259.1 529.9L1250.3 525.7L1245.3 523.2L1237.9 524.4L1230.4 526.9L1227.4 522.9L1221.6 524.2L1224.1 528.7L1230.4 534.9L1224.1 538.7L1216.6 538.7L1220.4 543.7L1222.1 547.4L1219.1 552.4L1217.9 557.9L1210.4 559.9L1204.1 557.9L1197.9 559.9L1190.4 562.4L1182.9 561.9L1177.9 559.4L1170.4 558.7L1160.4 557.4L1152.9 559.4L1145.4 561.6L1139.2 558.7L1132.9 556.9L1127.9 552.4L1129.2 547.9L1124.2 544.9L1122.9 541.2L1126.7 537.9L1125.4 533.7L1132.9 536.2L1136.7 531.9L1142.9 529.4L1146.7 527.9L1140.4 526.2L1132.9 524.4L1125.4 522.4L1120.4 523.2L1114.2 521.9L1109.2 517.4L1104.2 518.7L1097.9 521.2L1096.7 517.4L1100.4 513.7L1097.9 509.9L1099.9 506.2L1094.2 502.4L1090.4 497.4L1084.2 498.7L1080.4 494.4L1073 493.7L1068 491.2L1061.7 489.9L1061 486.2L1064.2 482.4L1068 478.7L1064.2 475L1062.5 470L1058 467L1053.5 465L1052.5 458.7L1051.7 452.5L1054.2 447.5L1056 442.5L1051.7 443.7L1046.7 446.2L1044.2 450L1040.5 448.7L1040 445.5L1044.2 444.5L1048 442.5L1050.5 440L1045.5 437.5L1040.5 435L1034.2 432.5L1035.5 428.7L1029.2 428L1026 423.7L1028 418.7L1030.5 413.7L1035.5 410L1041.7 406.2L1048 402.5Z" fill="#008000" stroke="#000" stroke-width="1.25" stroke-linejoin="round"/>
<circle cx="1226.1" cy="431" r="10.2" fill="#000"/>
<text x="1208" y="479.5" font-size="36.1" text-anchor="start">Pune city</text>
<path d="M180.9 857.3V1483M237.94 857.3V1483M294.98 857.3V1483M352.02 857.3V1483M409.06 857.3V1483M466.1 857.3V1483M523.14 857.3V1483M580.18 857.3V1483M637.22 857.3V1483M694.26 857.3V1483M751.3 857.3V1483M808.34 857.3V1483M142 1404.1H848M142 1321.3H848M142 1238.5H848M142 1155.7H848M142 1072.9H848M142 990.1H848M142 907.3H848" fill="none" stroke="#cbcbcb" stroke-width="2.2"/>
<text x="181.2" y="1521.6" font-size="33.7" text-anchor="middle">J</text>
<text x="238.24" y="1521.6" font-size="33.7" text-anchor="middle">F</text>
<text x="295.28" y="1521.6" font-size="33.7" text-anchor="middle">M</text>
<text x="352.32" y="1521.6" font-size="33.7" text-anchor="middle">A</text>
<text x="409.36" y="1521.6" font-size="33.7" text-anchor="middle">M</text>
<text x="466.4" y="1521.6" font-size="33.7" text-anchor="middle">J</text>
<text x="523.44" y="1521.6" font-size="33.7" text-anchor="middle">J</text>
<text x="580.48" y="1521.6" font-size="33.7" text-anchor="middle">A</text>
<text x="637.52" y="1521.6" font-size="33.7" text-anchor="middle">S</text>
<text x="694.56" y="1521.6" font-size="33.7" text-anchor="middle">O</text>
<text x="751.6" y="1521.6" font-size="33.7" text-anchor="middle">N</text>
<text x="808.64" y="1521.6" font-size="33.7" text-anchor="middle">D</text>
<text x="130.5" y="1500.9" font-size="33.7" text-anchor="end">0</text>
<text x="130.5" y="1418.1" font-size="33.7" text-anchor="end">10</text>
<text x="130.5" y="1335.3" font-size="33.7" text-anchor="end">20</text>
<text x="130.5" y="1252.5" font-size="33.7" text-anchor="end">30</text>
<text x="130.5" y="1169.7" font-size="33.7" text-anchor="end">40</text>
<text x="130.5" y="1086.9" font-size="33.7" text-anchor="end">50</text>
<text x="130.5" y="1004.1" font-size="33.7" text-anchor="end">60</text>
<text x="130.5" y="921.3" font-size="33.7" text-anchor="end">70</text>
<text x="494.8" y="1564" font-size="36.1" text-anchor="middle">Months</text>
<text x="69.8" y="1171" font-size="36.1" text-anchor="middle" transform="rotate(-90 69.8 1171)">Dengue mortality</text>
<text x="144.5" y="822" font-size="34.6" text-anchor="start" font-weight="bold">(c)</text>
<path d="M1025.4 857.3V1483M1154.94 857.3V1483M1284.48 857.3V1483M1414.02 857.3V1483M1543.56 857.3V1483M1673.1 857.3V1483M997.7 1457.9H1702M997.7 1342.7H1702M997.7 1227.5H1702M997.7 1112.3H1702M997.7 997.1H1702M997.7 881.9H1702" fill="none" stroke="#cbcbcb" stroke-width="2.2"/>
<text x="1025.7" y="1521.6" font-size="33.7" text-anchor="middle">0.0</text>
<text x="1155.24" y="1521.6" font-size="33.7" text-anchor="middle">0.2</text>
<text x="1284.78" y="1521.6" font-size="33.7" text-anchor="middle">0.4</text>
<text x="1414.32" y="1521.6" font-size="33.7" text-anchor="middle">0.6</text>
<text x="1543.86" y="1521.6" font-size="33.7" text-anchor="middle">0.8</text>
<text x="1673.4" y="1521.6" font-size="33.7" text-anchor="middle">1.0</text>
<text x="985.6" y="1471.9" font-size="33.7" text-anchor="end">0.0</text>
<text x="985.6" y="1356.7" font-size="33.7" text-anchor="end">0.2</text>
<text x="985.6" y="1241.5" font-size="33.7" text-anchor="end">0.4</text>
<text x="985.6" y="1126.3" font-size="33.7" text-anchor="end">0.6</text>
<text x="985.6" y="1011.1" font-size="33.7" text-anchor="end">0.8</text>
<text x="985.6" y="895.9" font-size="33.7" text-anchor="end">1.0</text>
<text x="1349" y="1564" font-size="36.1" text-anchor="middle">Rainfall (mm)</text>
<text x="1000.2" y="822" font-size="34.6" text-anchor="start" font-weight="bold">(d)</text>
<path d="M170.3 1649.4V2274.6M299.94 1649.4V2274.6M429.58 1649.4V2274.6M559.22 1649.4V2274.6M688.86 1649.4V2274.6M818.5 1649.4V2274.6M142 2221.8H848M142 2112.1H848M142 2002.4H848M142 1892.7H848M142 1783H848M142 1673.3H848" fill="none" stroke="#cbcbcb" stroke-width="2.2"/>
<text x="170.6" y="2313.2" font-size="33.7" text-anchor="middle">0.0</text>
<text x="300.24" y="2313.2" font-size="33.7" text-anchor="middle">0.2</text>
<text x="429.88" y="2313.2" font-size="33.7" text-anchor="middle">0.4</text>
<text x="559.52" y="2313.2" font-size="33.7" text-anchor="middle">0.6</text>
<text x="689.16" y="2313.2" font-size="33.7" text-anchor="middle">0.8</text>
<text x="818.8" y="2313.2" font-size="33.7" text-anchor="middle">1.0</text>
<text x="130.5" y="2235.8" font-size="33.7" text-anchor="end">0.0</text>
<text x="130.5" y="2126.1" font-size="33.7" text-anchor="end">0.2</text>
<text x="130.5" y="2016.4" font-size="33.7" text-anchor="end">0.4</text>
<text x="130.5" y="1906.7" font-size="33.7" text-anchor="end">0.6</text>
<text x="130.5" y="1797" font-size="33.7" text-anchor="end">0.8</text>
<text x="130.5" y="1687.3" font-size="33.7" text-anchor="end">1.0</text>
<text x="494.8" y="2355.6" font-size="36.1" text-anchor="middle">Temperature (°C)</text>
<text x="58.7" y="1963" font-size="36.1" text-anchor="middle" transform="rotate(-90 58.7 1963)">Dengue mortality</text>
<text x="144.5" y="1615" font-size="34.6" text-anchor="start" font-weight="bold">(e)</text>
<path d="M1025.4 1649.4V2274.6M1154.94 1649.4V2274.6M1284.48 1649.4V2274.6M1414.02 1649.4V2274.6M1543.56 1649.4V2274.6M1673.1 1649.4V2274.6M997.7 2249H1702M997.7 2133.9H1702M997.7 2018.8H1702M997.7 1903.7H1702M997.7 1788.6H1702M997.7 1673.5H1702" fill="none" stroke="#cbcbcb" stroke-width="2.2"/>
<text x="1025.7" y="2313.2" font-size="33.7" text-anchor="middle">0.0</text>
<text x="1155.24" y="2313.2" font-size="33.7" text-anchor="middle">0.2</text>
<text x="1284.78" y="2313.2" font-size="33.7" text-anchor="middle">0.4</text>
<text x="1414.32" y="2313.2" font-size="33.7" text-anchor="middle">0.6</text>
<text x="1543.86" y="2313.2" font-size="33.7" text-anchor="middle">0.8</text>
<text x="1673.4" y="2313.2" font-size="33.7" text-anchor="middle">1.0</text>
<text x="985.6" y="2263" font-size="33.7" text-anchor="end">0.0</text>
<text x="985.6" y="2147.9" font-size="33.7" text-anchor="end">0.2</text>
<text x="985.6" y="2032.8" font-size="33.7" text-anchor="end">0.4</text>
<text x="985.6" y="1917.7" font-size="33.7" text-anchor="end">0.6</text>
<text x="985.6" y="1802.6" font-size="33.7" text-anchor="end">0.8</text>
<text x="985.6" y="1687.5" font-size="33.7" text-anchor="end">1.0</text>
<text x="1349" y="2355.6" font-size="36.1" text-anchor="middle">Relative humidity (%)</text>
<text x="1000.2" y="1615" font-size="34.6" text-anchor="start" font-weight="bold">(f)</text>
<g clip-path="url(#cpc)">
<g fill="#d62728" fill-opacity="0.92"><rect x="170.85" y="1288.18" width="20.1" height="198.72"/><rect x="227.89" y="1412.38" width="20.1" height="74.52"/><rect x="284.93" y="1453.78" width="20.1" height="33.12"/><rect x="341.97" y="1428.94" width="20.1" height="57.96"/><rect x="399.01" y="1453.78" width="20.1" height="33.12"/><rect x="456.05" y="1412.38" width="20.1" height="74.52"/><rect x="513.09" y="1279.9" width="20.1" height="207"/><rect x="570.13" y="1155.7" width="20.1" height="331.2"/><rect x="627.17" y="1014.94" width="20.1" height="471.96"/><rect x="684.21" y="907.3" width="20.1" height="579.6"/><rect x="741.25" y="882.46" width="20.1" height="604.44"/><rect x="798.29" y="1263.34" width="20.1" height="223.56"/></g>
<polyline points="180.9,1443.84 237.94,1465.37 294.98,1479.28 352.02,1473.65 409.06,1479.45 466.1,1469.26 523.14,1432.67 580.18,1407.16 637.22,1361.04 694.26,1338.11 751.3,1324.03 808.34,1434.74" fill="none" stroke="#1f77b4" stroke-opacity="0.92" stroke-width="10.6" stroke-linejoin="round" stroke-linecap="butt"/>
</g>
<rect x="154.7" y="869.5" width="294.4" height="109.2" rx="4.5" ry="4.5" fill="#f0f0f0" fill-opacity="0.8" stroke="#cccccc" stroke-opacity="0.8" stroke-width="1.4"/>
<path d="M169 897.6H235.9" stroke="#1f77b4" stroke-opacity="0.92" stroke-width="10.2" fill="none"/>
<rect x="169" y="935.2" width="66.9" height="23.7" fill="#d62728" fill-opacity="0.92"/>
<text x="262.6" y="909.5" font-size="33.7" text-anchor="start">Mean*100</text>
<text x="263.6" y="958.9" font-size="33.7" text-anchor="start">Total</text>
<g clip-path="url(#cpd)">
<g fill="#0000ff"><circle cx="1211.1" cy="1002.2" r="4.6"/><circle cx="1101.7" cy="1026.2" r="4.6"/><circle cx="1064.2" cy="1146.1" r="4.6"/><circle cx="1034" cy="1170" r="4.6"/><circle cx="1128.2" cy="1170" r="4.6"/><circle cx="1029.7" cy="1194" r="4.6"/><circle cx="1231.4" cy="1194" r="4.6"/><circle cx="1025.5" cy="1218" r="4.6"/><circle cx="1028.2" cy="1218" r="4.6"/><circle cx="1025" cy="1266" r="4.6"/><circle cx="1028.5" cy="1266" r="4.6"/><circle cx="1113.2" cy="1289.9" r="4.6"/><circle cx="1145.4" cy="1289.9" r="4.6"/><circle cx="1279.8" cy="1289.9" r="4.6"/><circle cx="1082.2" cy="1313.9" r="4.6"/><circle cx="1111.7" cy="1313.9" r="4.6"/><circle cx="1125.9" cy="1313.9" r="4.6"/><circle cx="1255.1" cy="1313.9" r="4.6"/><circle cx="1139.4" cy="1337.9" r="4.6"/><circle cx="1064.2" cy="1361.9" r="4.6"/><circle cx="1091.9" cy="1361.9" r="4.6"/><circle cx="1152.9" cy="1361.9" r="4.6"/><circle cx="1155.9" cy="1361.9" r="4.6"/><circle cx="1249.8" cy="1361.9" r="4.6"/><circle cx="1280.3" cy="1361.9" r="4.6"/><circle cx="1050.5" cy="1385.9" r="4.6"/><circle cx="1058.7" cy="1385.9" r="4.6"/><circle cx="1070.2" cy="1385.9" r="4.6"/><circle cx="1111.9" cy="1385.9" r="4.6"/><circle cx="1158.4" cy="1385.9" r="4.6"/><circle cx="1191.1" cy="1385.9" r="4.6"/><circle cx="1267.3" cy="1385.9" r="4.6"/><circle cx="1296.6" cy="1385.9" r="4.6"/><circle cx="1029.2" cy="1409.8" r="4.6"/><circle cx="1035.5" cy="1409.8" r="4.6"/><circle cx="1046.2" cy="1409.8" r="4.6"/><circle cx="1048.7" cy="1409.8" r="4.6"/><circle cx="1143.2" cy="1409.8" r="4.6"/><circle cx="1202.6" cy="1409.8" r="4.6"/><circle cx="1039.2" cy="1433.8" r="4.6"/><circle cx="1042.5" cy="1433.8" r="4.6"/><circle cx="1105.7" cy="1433.8" r="4.6"/><circle cx="1119.2" cy="1433.8" r="4.6"/><circle cx="1124.7" cy="1433.8" r="4.6"/><circle cx="1166.9" cy="1433.8" r="4.6"/><circle cx="1195.1" cy="1433.8" r="4.6"/><circle cx="1252.8" cy="1433.8" r="4.6"/><circle cx="1035.5" cy="1457.8" r="4.6"/><circle cx="1039.2" cy="1457.8" r="4.6"/><circle cx="1061.7" cy="1457.8" r="4.6"/><circle cx="1076.5" cy="1457.8" r="4.6"/><circle cx="1128.9" cy="1457.8" r="4.6"/><circle cx="1147.2" cy="1457.8" r="4.6"/><circle cx="1289.3" cy="1457.8" r="4.6"/><circle cx="1309" cy="882.3" r="4.6"/><circle cx="1303.5" cy="1050.2" r="4.6"/><circle cx="1467.6" cy="1146.1" r="4.6"/><circle cx="1391.9" cy="1337.9" r="4.6"/><circle cx="1569.1" cy="1337.9" r="4.6"/><circle cx="1673.3" cy="1337.9" r="4.6"/><circle cx="1411.2" cy="1361.9" r="4.6"/><circle cx="1415.4" cy="1385.9" r="4.6"/><circle cx="1429.7" cy="1385.9" r="4.6"/><circle cx="1588.3" cy="1385.9" r="4.6"/><circle cx="1364" cy="1433.8" r="4.6"/><circle cx="1415.4" cy="1433.8" r="4.6"/><circle cx="1347.2" cy="1457.8" r="4.6"/><circle cx="1397.7" cy="1457.8" r="4.6"/></g>
<g fill="#ff0000"><circle cx="1039" cy="882.3" r="4.6"/><circle cx="1035.5" cy="1002.2" r="4.6"/><circle cx="1058.7" cy="1026.2" r="4.6"/><circle cx="1111.7" cy="1050.2" r="4.6"/><circle cx="1105.7" cy="1146.1" r="4.6"/><circle cx="1155.2" cy="1146.1" r="4.6"/><circle cx="1069" cy="1170" r="4.6"/><circle cx="1125.7" cy="1170" r="4.6"/><circle cx="1076.5" cy="1194" r="4.6"/><circle cx="1211.1" cy="1194" r="4.6"/><circle cx="1044.7" cy="1218" r="4.6"/><circle cx="1112.2" cy="1218" r="4.6"/><circle cx="1231.4" cy="1218" r="4.6"/><circle cx="1145.4" cy="1266" r="4.6"/><circle cx="1026" cy="1289.9" r="4.6"/><circle cx="1070.2" cy="1289.9" r="4.6"/><circle cx="1025.7" cy="1313.9" r="4.6"/><circle cx="1091.9" cy="1313.9" r="4.6"/><circle cx="1128.9" cy="1313.9" r="4.6"/><circle cx="1146.7" cy="1313.9" r="4.6"/><circle cx="1031.2" cy="1337.9" r="4.6"/><circle cx="1039.7" cy="1337.9" r="4.6"/><circle cx="1252.6" cy="1337.9" r="4.6"/><circle cx="1289.6" cy="1337.9" r="4.6"/><circle cx="1025" cy="1361.9" r="4.6"/><circle cx="1029.2" cy="1361.9" r="4.6"/><circle cx="1042" cy="1361.9" r="4.6"/><circle cx="1062" cy="1361.9" r="4.6"/><circle cx="1101.7" cy="1361.9" r="4.6"/><circle cx="1166.9" cy="1361.9" r="4.6"/><circle cx="1025" cy="1385.9" r="4.6"/><circle cx="1029.2" cy="1385.9" r="4.6"/><circle cx="1035.5" cy="1385.9" r="4.6"/><circle cx="1119.2" cy="1385.9" r="4.6"/><circle cx="1194.6" cy="1385.9" r="4.6"/><circle cx="1280.3" cy="1385.9" r="4.6"/><circle cx="1025.5" cy="1409.8" r="4.6"/><circle cx="1064.2" cy="1409.8" r="4.6"/><circle cx="1123.7" cy="1409.8" r="4.6"/><circle cx="1127.9" cy="1409.8" r="4.6"/><circle cx="1025" cy="1433.8" r="4.6"/><circle cx="1028" cy="1433.8" r="4.6"/><circle cx="1031" cy="1433.8" r="4.6"/><circle cx="1034.2" cy="1433.8" r="4.6"/><circle cx="1048" cy="1433.8" r="4.6"/><circle cx="1139.2" cy="1433.8" r="4.6"/><circle cx="1153.4" cy="1433.8" r="4.6"/><circle cx="1158.4" cy="1433.8" r="4.6"/><circle cx="1191.1" cy="1433.8" r="4.6"/><circle cx="1202.6" cy="1433.8" r="4.6"/><circle cx="1249.8" cy="1433.8" r="4.6"/><circle cx="1274.1" cy="1433.8" r="4.6"/><circle cx="1280.3" cy="1433.8" r="4.6"/><circle cx="1025" cy="1457.8" r="4.6"/><circle cx="1028" cy="1457.8" r="4.6"/><circle cx="1031" cy="1457.8" r="4.6"/><circle cx="1045.5" cy="1457.8" r="4.6"/><circle cx="1050" cy="1457.8" r="4.6"/><circle cx="1058.7" cy="1457.8" r="4.6"/><circle cx="1063.7" cy="1457.8" r="4.6"/><circle cx="1082.2" cy="1457.8" r="4.6"/><circle cx="1113.2" cy="1457.8" r="4.6"/><circle cx="1142.9" cy="1457.8" r="4.6"/><circle cx="1255.1" cy="1457.8" r="4.6"/><circle cx="1267.3" cy="1457.8" r="4.6"/><circle cx="1296.6" cy="1457.8" r="4.6"/><circle cx="1309.2" cy="1266" r="4.6"/><circle cx="1364" cy="1385.9" r="4.6"/><circle cx="1397.2" cy="1385.9" r="4.6"/><circle cx="1412.4" cy="1385.9" r="4.6"/><circle cx="1303.5" cy="1409.8" r="4.6"/><circle cx="1467.6" cy="1409.8" r="4.6"/><circle cx="1347.2" cy="1433.8" r="4.6"/><circle cx="1413.4" cy="1433.8" r="4.6"/><circle cx="1476.9" cy="1433.8" r="4.6"/><circle cx="1569.1" cy="1433.8" r="4.6"/><circle cx="1332.2" cy="1457.8" r="4.6"/><circle cx="1391.9" cy="1457.8" r="4.6"/><circle cx="1410.4" cy="1457.8" r="4.6"/><circle cx="1414.7" cy="1457.8" r="4.6"/><circle cx="1429.7" cy="1457.8" r="4.6"/><circle cx="1588.3" cy="1457.8" r="4.6"/><circle cx="1673.3" cy="1457.8" r="4.6"/></g>
</g>
<path clip-path="url(#cpd)" d="M1025.5 1407.9L1673 1283.19" stroke="#0000ff" stroke-width="5.2" stroke-linecap="round" fill="none"/>
<path clip-path="url(#cpd)" d="M1025.5 1390.58L1673 1405.37" stroke="#ff0000" stroke-width="5.2" stroke-linecap="round" fill="none"/>
<rect x="1303.5" y="869.5" width="385" height="109.2" rx="4.5" ry="4.5" fill="#f0f0f0" fill-opacity="0.8" stroke="#cccccc" stroke-opacity="0.8" stroke-width="1.4"/>
<path d="M1317 897.5H1384.7" stroke="#0000ff" stroke-width="5.5" fill="none"/>
<path d="M1317 946.9H1384.7" stroke="#ff0000" stroke-width="5.5" fill="none"/>
<text x="1409.4" y="909.5" font-size="33.7" text-anchor="start">lag 11, r = 0.20</text>
<text x="1409.4" y="958.9" font-size="33.7" text-anchor="start">lag 0, r = -0.03</text>
<g clip-path="url(#cpe)">
<g fill="#0000ff"><circle cx="389.1" cy="1993.3" r="4.6"/><circle cx="292.6" cy="2039" r="4.6"/><circle cx="409.1" cy="2061.8" r="4.6"/><circle cx="439.8" cy="2084.7" r="4.6"/><circle cx="401.1" cy="2130.3" r="4.6"/><circle cx="416.6" cy="2130.3" r="4.6"/><circle cx="442.6" cy="2130.3" r="4.6"/><circle cx="191.7" cy="2153.1" r="4.6"/><circle cx="419.1" cy="2153.1" r="4.6"/><circle cx="428.3" cy="2153.1" r="4.6"/><circle cx="188.7" cy="2175.9" r="4.6"/><circle cx="244.9" cy="2175.9" r="4.6"/><circle cx="331.9" cy="2175.9" r="4.6"/><circle cx="349.4" cy="2175.9" r="4.6"/><circle cx="359.6" cy="2175.9" r="4.6"/><circle cx="375.8" cy="2175.9" r="4.6"/><circle cx="395.8" cy="2175.9" r="4.6"/><circle cx="411.6" cy="2175.9" r="4.6"/><circle cx="419.8" cy="2175.9" r="4.6"/><circle cx="443.6" cy="2175.9" r="4.6"/><circle cx="170.5" cy="2198.8" r="4.6"/><circle cx="200.2" cy="2198.8" r="4.6"/><circle cx="223.7" cy="2198.8" r="4.6"/><circle cx="309.4" cy="2198.8" r="4.6"/><circle cx="361.1" cy="2198.8" r="4.6"/><circle cx="374.8" cy="2198.8" r="4.6"/><circle cx="404.3" cy="2198.8" r="4.6"/><circle cx="177" cy="2221.6" r="4.6"/><circle cx="210.9" cy="2221.6" r="4.6"/><circle cx="229.4" cy="2221.6" r="4.6"/><circle cx="252.4" cy="2221.6" r="4.6"/><circle cx="261.7" cy="2221.6" r="4.6"/><circle cx="296.1" cy="2221.6" r="4.6"/><circle cx="313.6" cy="2221.6" r="4.6"/><circle cx="328.6" cy="2221.6" r="4.6"/><circle cx="386.1" cy="2221.6" r="4.6"/><circle cx="391.8" cy="2221.6" r="4.6"/><circle cx="426.1" cy="2221.6" r="4.6"/><circle cx="428.6" cy="2221.6" r="4.6"/><circle cx="449.1" cy="2221.6" r="4.6"/><circle cx="476.5" cy="1970.5" r="4.6"/><circle cx="590.7" cy="1970.5" r="4.6"/><circle cx="603.9" cy="1993.3" r="4.6"/><circle cx="818.5" cy="1993.3" r="4.6"/><circle cx="587.2" cy="2039" r="4.6"/><circle cx="577.4" cy="2061.8" r="4.6"/><circle cx="639.6" cy="2061.8" r="4.6"/><circle cx="516.5" cy="2084.7" r="4.6"/><circle cx="691.3" cy="2084.7" r="4.6"/><circle cx="749.1" cy="2084.7" r="4.6"/><circle cx="475.5" cy="2107.5" r="4.6"/><circle cx="698.3" cy="2107.5" r="4.6"/><circle cx="723.8" cy="2107.5" r="4.6"/><circle cx="736.1" cy="2107.5" r="4.6"/><circle cx="465" cy="2130.3" r="4.6"/><circle cx="494.2" cy="2130.3" r="4.6"/><circle cx="530.9" cy="2130.3" r="4.6"/><circle cx="689.9" cy="2130.3" r="4.6"/><circle cx="758.3" cy="2130.3" r="4.6"/><circle cx="487.5" cy="2153.1" r="4.6"/><circle cx="498.7" cy="2153.1" r="4.6"/><circle cx="516.2" cy="2153.1" r="4.6"/><circle cx="531.9" cy="2153.1" r="4.6"/><circle cx="536.9" cy="2153.1" r="4.6"/><circle cx="581.2" cy="2153.1" r="4.6"/><circle cx="621.1" cy="2153.1" r="4.6"/><circle cx="642.4" cy="2153.1" r="4.6"/><circle cx="714.1" cy="2153.1" r="4.6"/><circle cx="722.3" cy="2153.1" r="4.6"/><circle cx="526.2" cy="2175.9" r="4.6"/><circle cx="689.9" cy="2175.9" r="4.6"/><circle cx="453" cy="2198.8" r="4.6"/><circle cx="467.5" cy="2198.8" r="4.6"/><circle cx="473.7" cy="2198.8" r="4.6"/><circle cx="478" cy="2198.8" r="4.6"/><circle cx="515.2" cy="2198.8" r="4.6"/><circle cx="541.2" cy="2198.8" r="4.6"/><circle cx="546.7" cy="2198.8" r="4.6"/><circle cx="594.2" cy="2198.8" r="4.6"/><circle cx="733.6" cy="2198.8" r="4.6"/><circle cx="460" cy="2221.6" r="4.6"/><circle cx="466.2" cy="2221.6" r="4.6"/><circle cx="492" cy="2221.6" r="4.6"/><circle cx="496.2" cy="2221.6" r="4.6"/><circle cx="531.2" cy="2221.6" r="4.6"/><circle cx="727.3" cy="2221.6" r="4.6"/><circle cx="721.9" cy="1673.8" r="4.6"/><circle cx="667.8" cy="1787.9" r="4.6"/><circle cx="539.4" cy="1810.8" r="4.6"/><circle cx="647.1" cy="1833.6" r="4.6"/><circle cx="664.3" cy="1924.9" r="4.6"/><circle cx="746.8" cy="1924.9" r="4.6"/><circle cx="765.8" cy="1947.7" r="4.6"/><circle cx="778.5" cy="1947.7" r="4.6"/></g>
<g fill="#ff0000"><circle cx="429.3" cy="1970.5" r="4.6"/><circle cx="428.3" cy="1993.3" r="4.6"/><circle cx="439.8" cy="1993.3" r="4.6"/><circle cx="442.6" cy="2039" r="4.6"/><circle cx="170.7" cy="2061.8" r="4.6"/><circle cx="386.1" cy="2061.8" r="4.6"/><circle cx="411.6" cy="2061.8" r="4.6"/><circle cx="223.7" cy="2084.7" r="4.6"/><circle cx="369.4" cy="2084.7" r="4.6"/><circle cx="403.1" cy="2107.5" r="4.6"/><circle cx="408.6" cy="2107.5" r="4.6"/><circle cx="425.8" cy="2107.5" r="4.6"/><circle cx="229.4" cy="2130.3" r="4.6"/><circle cx="251.9" cy="2130.3" r="4.6"/><circle cx="374.6" cy="2130.3" r="4.6"/><circle cx="409.8" cy="2130.3" r="4.6"/><circle cx="419.8" cy="2130.3" r="4.6"/><circle cx="200.2" cy="2153.1" r="4.6"/><circle cx="318.6" cy="2153.1" r="4.6"/><circle cx="361.1" cy="2153.1" r="4.6"/><circle cx="375.8" cy="2153.1" r="4.6"/><circle cx="388.6" cy="2153.1" r="4.6"/><circle cx="392.3" cy="2153.1" r="4.6"/><circle cx="443.6" cy="2153.1" r="4.6"/><circle cx="210.9" cy="2175.9" r="4.6"/><circle cx="261.2" cy="2175.9" r="4.6"/><circle cx="329.4" cy="2175.9" r="4.6"/><circle cx="428.1" cy="2175.9" r="4.6"/><circle cx="449.1" cy="2175.9" r="4.6"/><circle cx="177" cy="2198.8" r="4.6"/><circle cx="188.7" cy="2198.8" r="4.6"/><circle cx="243.2" cy="2198.8" r="4.6"/><circle cx="282.9" cy="2198.8" r="4.6"/><circle cx="294.9" cy="2198.8" r="4.6"/><circle cx="299.9" cy="2198.8" r="4.6"/><circle cx="313.1" cy="2198.8" r="4.6"/><circle cx="317.4" cy="2198.8" r="4.6"/><circle cx="328.1" cy="2198.8" r="4.6"/><circle cx="353.1" cy="2198.8" r="4.6"/><circle cx="386.6" cy="2198.8" r="4.6"/><circle cx="396.1" cy="2198.8" r="4.6"/><circle cx="400.6" cy="2198.8" r="4.6"/><circle cx="414.8" cy="2198.8" r="4.6"/><circle cx="419.1" cy="2198.8" r="4.6"/><circle cx="428.6" cy="2198.8" r="4.6"/><circle cx="432.3" cy="2198.8" r="4.6"/><circle cx="436.1" cy="2198.8" r="4.6"/><circle cx="446.8" cy="2198.8" r="4.6"/><circle cx="192" cy="2221.6" r="4.6"/><circle cx="244.9" cy="2221.6" r="4.6"/><circle cx="247.4" cy="2221.6" r="4.6"/><circle cx="257.4" cy="2221.6" r="4.6"/><circle cx="292.6" cy="2221.6" r="4.6"/><circle cx="309.4" cy="2221.6" r="4.6"/><circle cx="318.6" cy="2221.6" r="4.6"/><circle cx="331.9" cy="2221.6" r="4.6"/><circle cx="349.4" cy="2221.6" r="4.6"/><circle cx="353.1" cy="2221.6" r="4.6"/><circle cx="356.6" cy="2221.6" r="4.6"/><circle cx="359.9" cy="2221.6" r="4.6"/><circle cx="374.6" cy="2221.6" r="4.6"/><circle cx="403.1" cy="2221.6" r="4.6"/><circle cx="409.8" cy="2221.6" r="4.6"/><circle cx="436.1" cy="2221.6" r="4.6"/><circle cx="473" cy="1970.5" r="4.6"/><circle cx="512.2" cy="1993.3" r="4.6"/><circle cx="473.7" cy="2039" r="4.6"/><circle cx="474.7" cy="2084.7" r="4.6"/><circle cx="498.5" cy="2084.7" r="4.6"/><circle cx="466.7" cy="2107.5" r="4.6"/><circle cx="460" cy="2130.3" r="4.6"/><circle cx="462.5" cy="2130.3" r="4.6"/><circle cx="496.2" cy="2130.3" r="4.6"/><circle cx="451.2" cy="2153.1" r="4.6"/><circle cx="455" cy="2153.1" r="4.6"/><circle cx="460" cy="2153.1" r="4.6"/><circle cx="465" cy="2153.1" r="4.6"/><circle cx="493.7" cy="2153.1" r="4.6"/><circle cx="526.2" cy="2153.1" r="4.6"/><circle cx="516.2" cy="2175.9" r="4.6"/><circle cx="530.4" cy="2175.9" r="4.6"/><circle cx="539.9" cy="2175.9" r="4.6"/><circle cx="667.9" cy="2175.9" r="4.6"/><circle cx="749.1" cy="2175.9" r="4.6"/><circle cx="765.6" cy="2175.9" r="4.6"/><circle cx="816.8" cy="2175.9" r="4.6"/><circle cx="819.8" cy="2175.9" r="4.6"/><circle cx="487.5" cy="2198.8" r="4.6"/><circle cx="495" cy="2198.8" r="4.6"/><circle cx="531.2" cy="2198.8" r="4.6"/><circle cx="577.4" cy="2198.8" r="4.6"/><circle cx="581.2" cy="2198.8" r="4.6"/><circle cx="590.7" cy="2198.8" r="4.6"/><circle cx="647.4" cy="2198.8" r="4.6"/><circle cx="651.9" cy="2198.8" r="4.6"/><circle cx="698.3" cy="2198.8" r="4.6"/><circle cx="726.6" cy="2198.8" r="4.6"/><circle cx="746.8" cy="2198.8" r="4.6"/><circle cx="455" cy="2221.6" r="4.6"/><circle cx="475" cy="2221.6" r="4.6"/><circle cx="478" cy="2221.6" r="4.6"/><circle cx="512.5" cy="2221.6" r="4.6"/><circle cx="516.2" cy="2221.6" r="4.6"/><circle cx="527" cy="2221.6" r="4.6"/><circle cx="536.9" cy="2221.6" r="4.6"/><circle cx="544.9" cy="2221.6" r="4.6"/><circle cx="548.7" cy="2221.6" r="4.6"/><circle cx="586.9" cy="2221.6" r="4.6"/><circle cx="593.7" cy="2221.6" r="4.6"/><circle cx="603.9" cy="2221.6" r="4.6"/><circle cx="621.1" cy="2221.6" r="4.6"/><circle cx="639.9" cy="2221.6" r="4.6"/><circle cx="642.9" cy="2221.6" r="4.6"/><circle cx="651.1" cy="2221.6" r="4.6"/><circle cx="664.4" cy="2221.6" r="4.6"/><circle cx="689.1" cy="2221.6" r="4.6"/><circle cx="691.8" cy="2221.6" r="4.6"/><circle cx="699.8" cy="2221.6" r="4.6"/><circle cx="713.6" cy="2221.6" r="4.6"/><circle cx="722.3" cy="2221.6" r="4.6"/><circle cx="724.8" cy="2221.6" r="4.6"/><circle cx="733.6" cy="2221.6" r="4.6"/><circle cx="736.8" cy="2221.6" r="4.6"/><circle cx="758.6" cy="2221.6" r="4.6"/><circle cx="778.5" cy="2221.6" r="4.6"/><circle cx="541.1" cy="1673.8" r="4.6"/><circle cx="450.7" cy="1787.9" r="4.6"/><circle cx="512.9" cy="1810.8" r="4.6"/><circle cx="491.7" cy="1833.6" r="4.6"/><circle cx="437.5" cy="1924.9" r="4.6"/><circle cx="492.2" cy="1924.9" r="4.6"/><circle cx="466.2" cy="1947.7" r="4.6"/><circle cx="599.9" cy="1947.7" r="4.6"/></g>
</g>
<path clip-path="url(#cpe)" d="M170.5 2249.81L818.1 2049.21" stroke="#0000ff" stroke-width="5.2" stroke-linecap="round" fill="none"/>
<path clip-path="url(#cpe)" d="M170.5 2143.1L818.1 2177.89" stroke="#ff0000" stroke-width="5.2" stroke-linecap="round" fill="none"/>
<rect x="419.9" y="1663.2" width="412.6" height="115.8" rx="4.5" ry="4.5" fill="#f0f0f0" fill-opacity="0.8" stroke="#cccccc" stroke-opacity="0.8" stroke-width="1.4"/>
<path d="M434.1 1692.3H506.6" stroke="#0000ff" stroke-width="5.5" fill="none"/>
<path d="M434.1 1744.7H506.6" stroke="#ff0000" stroke-width="5.5" fill="none"/>
<text x="534.4" y="1705.4" font-size="36.3" text-anchor="start">lag 20, r = 0.38</text>
<text x="534.4" y="1757.8" font-size="36.3" text-anchor="start">lag 0, r = -0.04</text>
<g clip-path="url(#cpf)">
<g fill="#0000ff"><circle cx="1338.8" cy="1985.5" r="4.6"/><circle cx="1185.9" cy="2009.4" r="4.6"/><circle cx="1172.1" cy="2057.3" r="4.6"/><circle cx="1245.6" cy="2177" r="4.6"/><circle cx="1078.7" cy="2200.9" r="4.6"/><circle cx="1137.4" cy="2200.9" r="4.6"/><circle cx="1169.1" cy="2200.9" r="4.6"/><circle cx="1210.4" cy="2200.9" r="4.6"/><circle cx="1213.4" cy="2200.9" r="4.6"/><circle cx="1025.5" cy="2224.9" r="4.6"/><circle cx="1028" cy="2224.9" r="4.6"/><circle cx="1142.9" cy="2224.9" r="4.6"/><circle cx="1164.9" cy="2224.9" r="4.6"/><circle cx="1255.1" cy="2224.9" r="4.6"/><circle cx="1298.8" cy="2224.9" r="4.6"/><circle cx="1043.5" cy="2248.8" r="4.6"/><circle cx="1204.4" cy="2248.8" r="4.6"/><circle cx="1233.1" cy="2248.8" r="4.6"/><circle cx="1601.8" cy="1674.3" r="4.6"/><circle cx="1519" cy="1794" r="4.6"/><circle cx="1542" cy="1817.9" r="4.6"/><circle cx="1503.3" cy="1841.9" r="4.6"/><circle cx="1469.4" cy="1937.6" r="4.6"/><circle cx="1529.9" cy="1937.6" r="4.6"/><circle cx="1524.7" cy="1961.6" r="4.6"/><circle cx="1541.4" cy="1961.6" r="4.6"/><circle cx="1560.1" cy="1985.5" r="4.6"/><circle cx="1490.2" cy="2009.4" r="4.6"/><circle cx="1378.2" cy="2057.3" r="4.6"/><circle cx="1413.6" cy="2081.2" r="4.6"/><circle cx="1544.7" cy="2081.2" r="4.6"/><circle cx="1571.6" cy="2081.2" r="4.6"/><circle cx="1501.7" cy="2105.2" r="4.6"/><circle cx="1519.6" cy="2105.2" r="4.6"/><circle cx="1535.6" cy="2105.2" r="4.6"/><circle cx="1551.1" cy="2105.2" r="4.6"/><circle cx="1533.8" cy="2129.1" r="4.6"/><circle cx="1556.6" cy="2129.1" r="4.6"/><circle cx="1590.8" cy="2129.1" r="4.6"/><circle cx="1626.6" cy="2129.1" r="4.6"/><circle cx="1416.3" cy="2153.1" r="4.6"/><circle cx="1453.3" cy="2153.1" r="4.6"/><circle cx="1480.9" cy="2153.1" r="4.6"/><circle cx="1507.4" cy="2153.1" r="4.6"/><circle cx="1551.7" cy="2153.1" r="4.6"/><circle cx="1603.5" cy="2153.1" r="4.6"/><circle cx="1457.2" cy="2177" r="4.6"/><circle cx="1481.1" cy="2177" r="4.6"/><circle cx="1486.9" cy="2177" r="4.6"/><circle cx="1545.9" cy="2177" r="4.6"/><circle cx="1554.6" cy="2177" r="4.6"/><circle cx="1569.6" cy="2177" r="4.6"/><circle cx="1597.2" cy="2177" r="4.6"/><circle cx="1646.7" cy="2177" r="4.6"/><circle cx="1385.8" cy="2200.9" r="4.6"/><circle cx="1410.1" cy="2200.9" r="4.6"/><circle cx="1447.8" cy="2200.9" r="4.6"/><circle cx="1494.5" cy="2200.9" r="4.6"/><circle cx="1510.9" cy="2200.9" r="4.6"/><circle cx="1571.2" cy="2200.9" r="4.6"/><circle cx="1400.2" cy="2224.9" r="4.6"/><circle cx="1427.6" cy="2224.9" r="4.6"/><circle cx="1430.1" cy="2224.9" r="4.6"/><circle cx="1472.9" cy="2224.9" r="4.6"/><circle cx="1483.2" cy="2224.9" r="4.6"/><circle cx="1498" cy="2224.9" r="4.6"/><circle cx="1504.8" cy="2224.9" r="4.6"/><circle cx="1520.8" cy="2224.9" r="4.6"/><circle cx="1577.8" cy="2224.9" r="4.6"/><circle cx="1589.1" cy="2224.9" r="4.6"/><circle cx="1600" cy="2224.9" r="4.6"/><circle cx="1640.4" cy="2224.9" r="4.6"/><circle cx="1383.4" cy="2248.8" r="4.6"/><circle cx="1387.5" cy="2248.8" r="4.6"/><circle cx="1409.1" cy="2248.8" r="4.6"/><circle cx="1445.7" cy="2248.8" r="4.6"/><circle cx="1462.6" cy="2248.8" r="4.6"/><circle cx="1527.4" cy="2248.8" r="4.6"/><circle cx="1547.4" cy="2248.8" r="4.6"/><circle cx="1558.9" cy="2248.8" r="4.6"/><circle cx="1581.9" cy="2248.8" r="4.6"/><circle cx="1609.7" cy="2248.8" r="4.6"/><circle cx="1617.9" cy="2248.8" r="4.6"/><circle cx="1621" cy="2248.8" r="4.6"/><circle cx="1652.9" cy="2248.8" r="4.6"/><circle cx="1657" cy="2248.8" r="4.6"/><circle cx="1664.7" cy="2248.8" r="4.6"/></g>
<g fill="#ff0000"><circle cx="1026.2" cy="2200.9" r="4.6"/><circle cx="1043.5" cy="2200.9" r="4.6"/><circle cx="1185.9" cy="2200.9" r="4.6"/><circle cx="1204.4" cy="2200.9" r="4.6"/><circle cx="1338.3" cy="2200.9" r="4.6"/><circle cx="1089.9" cy="2224.9" r="4.6"/><circle cx="1137.4" cy="2224.9" r="4.6"/><circle cx="1169.1" cy="2224.9" r="4.6"/><circle cx="1215.9" cy="2224.9" r="4.6"/><circle cx="1232.9" cy="2224.9" r="4.6"/><circle cx="1366" cy="2224.9" r="4.6"/><circle cx="1025.5" cy="2248.8" r="4.6"/><circle cx="1028" cy="2248.8" r="4.6"/><circle cx="1060.7" cy="2248.8" r="4.6"/><circle cx="1073" cy="2248.8" r="4.6"/><circle cx="1078.7" cy="2248.8" r="4.6"/><circle cx="1089.9" cy="2248.8" r="4.6"/><circle cx="1099.2" cy="2248.8" r="4.6"/><circle cx="1103.4" cy="2248.8" r="4.6"/><circle cx="1107.2" cy="2248.8" r="4.6"/><circle cx="1128.9" cy="2248.8" r="4.6"/><circle cx="1142.9" cy="2248.8" r="4.6"/><circle cx="1161.6" cy="2248.8" r="4.6"/><circle cx="1165.4" cy="2248.8" r="4.6"/><circle cx="1172.1" cy="2248.8" r="4.6"/><circle cx="1176.6" cy="2248.8" r="4.6"/><circle cx="1196.6" cy="2248.8" r="4.6"/><circle cx="1202.9" cy="2248.8" r="4.6"/><circle cx="1210.4" cy="2248.8" r="4.6"/><circle cx="1213.4" cy="2248.8" r="4.6"/><circle cx="1216.6" cy="2248.8" r="4.6"/><circle cx="1245.6" cy="2248.8" r="4.6"/><circle cx="1255.1" cy="2248.8" r="4.6"/><circle cx="1269.3" cy="2248.8" r="4.6"/><circle cx="1298.8" cy="2248.8" r="4.6"/><circle cx="1481" cy="1674.3" r="4.6"/><circle cx="1510.1" cy="1794" r="4.6"/><circle cx="1468.1" cy="1817.9" r="4.6"/><circle cx="1542" cy="1841.9" r="4.6"/><circle cx="1445.7" cy="1937.6" r="4.6"/><circle cx="1518.8" cy="1937.6" r="4.6"/><circle cx="1501.7" cy="1961.6" r="4.6"/><circle cx="1559.7" cy="1961.6" r="4.6"/><circle cx="1554.4" cy="1985.5" r="4.6"/><circle cx="1601.9" cy="1985.5" r="4.6"/><circle cx="1519.4" cy="2009.4" r="4.6"/><circle cx="1541.4" cy="2009.4" r="4.6"/><circle cx="1589.1" cy="2009.4" r="4.6"/><circle cx="1469.4" cy="2057.3" r="4.6"/><circle cx="1529.9" cy="2057.3" r="4.6"/><circle cx="1453.1" cy="2081.2" r="4.6"/><circle cx="1520.4" cy="2081.2" r="4.6"/><circle cx="1579.9" cy="2081.2" r="4.6"/><circle cx="1483.2" cy="2105.2" r="4.6"/><circle cx="1571.6" cy="2105.2" r="4.6"/><circle cx="1578.2" cy="2105.2" r="4.6"/><circle cx="1620.2" cy="2105.2" r="4.6"/><circle cx="1463.6" cy="2129.1" r="4.6"/><circle cx="1547.4" cy="2129.1" r="4.6"/><circle cx="1569.6" cy="2129.1" r="4.6"/><circle cx="1640.4" cy="2129.1" r="4.6"/><circle cx="1385.8" cy="2153.1" r="4.6"/><circle cx="1448.2" cy="2153.1" r="4.6"/><circle cx="1494.7" cy="2153.1" r="4.6"/><circle cx="1524.5" cy="2153.1" r="4.6"/><circle cx="1544.7" cy="2153.1" r="4.6"/><circle cx="1567.9" cy="2153.1" r="4.6"/><circle cx="1623.1" cy="2153.1" r="4.6"/><circle cx="1400.2" cy="2177" r="4.6"/><circle cx="1409.7" cy="2177" r="4.6"/><circle cx="1413.8" cy="2177" r="4.6"/><circle cx="1429.7" cy="2177" r="4.6"/><circle cx="1494.5" cy="2177" r="4.6"/><circle cx="1499.6" cy="2177" r="4.6"/><circle cx="1504.8" cy="2177" r="4.6"/><circle cx="1524.5" cy="2177" r="4.6"/><circle cx="1577" cy="2177" r="4.6"/><circle cx="1589.1" cy="2177" r="4.6"/><circle cx="1617.9" cy="2177" r="4.6"/><circle cx="1626.2" cy="2177" r="4.6"/><circle cx="1630.3" cy="2177" r="4.6"/><circle cx="1652.7" cy="2177" r="4.6"/><circle cx="1450.5" cy="2200.9" r="4.6"/><circle cx="1503.3" cy="2200.9" r="4.6"/><circle cx="1535.6" cy="2200.9" r="4.6"/><circle cx="1579.9" cy="2200.9" r="4.6"/><circle cx="1603.5" cy="2200.9" r="4.6"/><circle cx="1617.9" cy="2200.9" r="4.6"/><circle cx="1664.7" cy="2200.9" r="4.6"/><circle cx="1377.2" cy="2224.9" r="4.6"/><circle cx="1383.4" cy="2224.9" r="4.6"/><circle cx="1387.5" cy="2224.9" r="4.6"/><circle cx="1409.7" cy="2224.9" r="4.6"/><circle cx="1458.9" cy="2224.9" r="4.6"/><circle cx="1467.1" cy="2224.9" r="4.6"/><circle cx="1486.3" cy="2224.9" r="4.6"/><circle cx="1490.4" cy="2224.9" r="4.6"/><circle cx="1510.5" cy="2224.9" r="4.6"/><circle cx="1524.3" cy="2224.9" r="4.6"/><circle cx="1528.4" cy="2224.9" r="4.6"/><circle cx="1534" cy="2224.9" r="4.6"/><circle cx="1545.9" cy="2224.9" r="4.6"/><circle cx="1551.1" cy="2224.9" r="4.6"/><circle cx="1557.2" cy="2224.9" r="4.6"/><circle cx="1562.4" cy="2224.9" r="4.6"/><circle cx="1571.6" cy="2224.9" r="4.6"/><circle cx="1583" cy="2224.9" r="4.6"/><circle cx="1586" cy="2224.9" r="4.6"/><circle cx="1597.4" cy="2224.9" r="4.6"/><circle cx="1609.7" cy="2224.9" r="4.6"/><circle cx="1656.6" cy="2224.9" r="4.6"/><circle cx="1673.5" cy="2224.9" r="4.6"/><circle cx="1378.2" cy="2248.8" r="4.6"/><circle cx="1413.8" cy="2248.8" r="4.6"/><circle cx="1416.9" cy="2248.8" r="4.6"/><circle cx="1427.6" cy="2248.8" r="4.6"/><circle cx="1432.8" cy="2248.8" r="4.6"/><circle cx="1454.4" cy="2248.8" r="4.6"/><circle cx="1458.1" cy="2248.8" r="4.6"/><circle cx="1465.7" cy="2248.8" r="4.6"/><circle cx="1472.9" cy="2248.8" r="4.6"/><circle cx="1481.1" cy="2248.8" r="4.6"/><circle cx="1484.8" cy="2248.8" r="4.6"/><circle cx="1488.3" cy="2248.8" r="4.6"/><circle cx="1498" cy="2248.8" r="4.6"/><circle cx="1507.4" cy="2248.8" r="4.6"/><circle cx="1521.2" cy="2248.8" r="4.6"/><circle cx="1556.8" cy="2248.8" r="4.6"/><circle cx="1573.7" cy="2248.8" r="4.6"/><circle cx="1577.8" cy="2248.8" r="4.6"/><circle cx="1586" cy="2248.8" r="4.6"/><circle cx="1590.8" cy="2248.8" r="4.6"/><circle cx="1599.4" cy="2248.8" r="4.6"/><circle cx="1611.8" cy="2248.8" r="4.6"/><circle cx="1625.1" cy="2248.8" r="4.6"/><circle cx="1642.6" cy="2248.8" r="4.6"/><circle cx="1646.7" cy="2248.8" r="4.6"/></g>
</g>
<path clip-path="url(#cpf)" d="M1025.5 2229.09L1673 2154.06" stroke="#0000ff" stroke-width="5.2" stroke-linecap="round" fill="none"/>
<path clip-path="url(#cpf)" d="M1025.5 2249.78L1673 2143.38" stroke="#ff0000" stroke-width="5.2" stroke-linecap="round" fill="none"/>
<rect x="1297.5" y="1663.3" width="390.1" height="115.4" rx="4.5" ry="4.5" fill="#f0f0f0" fill-opacity="0.8" stroke="#cccccc" stroke-opacity="0.8" stroke-width="1.4"/>
<path d="M1311.5 1692.2H1384" stroke="#0000ff" stroke-width="5.5" fill="none"/>
<path d="M1311.5 1744.4H1384" stroke="#ff0000" stroke-width="5.5" fill="none"/>
<text x="1412.9" y="1705.3" font-size="36.3" text-anchor="start">lag 6, r = 0.21</text>
<text x="1412.9" y="1757.5" font-size="36.3" text-anchor="start">lag 0, r = 0.22</text>
</svg>
</body></html>
